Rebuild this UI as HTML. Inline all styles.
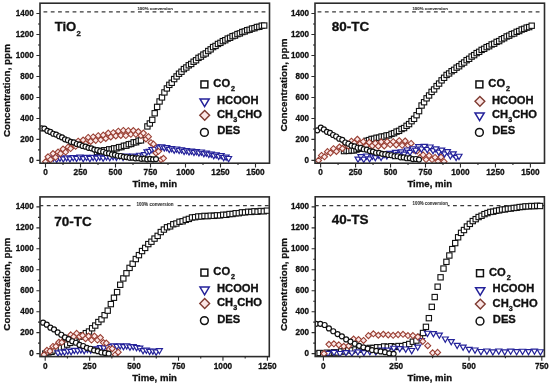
<!DOCTYPE html><html><head><meta charset="utf-8"><style>html,body{margin:0;padding:0;background:#fff;}svg{display:block;filter:blur(0.35px);}text{font-family:"Liberation Sans", sans-serif;font-weight:bold;fill:#111;stroke:#111;stroke-width:0.3px;}</style></head><body>
<svg width="550" height="386" viewBox="0 0 550 386">
<rect width="550" height="386" fill="#fff"/>
<defs>
<clipPath id="cp1"><rect x="40" y="3.2" width="229.5" height="160"/></clipPath>
<clipPath id="cp2"><rect x="315" y="3.2" width="229.5" height="160"/></clipPath>
<clipPath id="cp3"><rect x="40" y="196.9" width="229.3" height="159.7"/></clipPath>
<clipPath id="cp4"><rect x="315.2" y="196.8" width="229.2" height="159.7"/></clipPath>
</defs>
<g id="p1">
<line x1="43.5" y1="11.9" x2="265.4" y2="11.9" stroke="#3a3a3a" stroke-width="1.4" stroke-dasharray="3.8 3.47" clip-path="url(#cp1)"/>
<text x="155.15" y="9.7" font-size="4.4" text-anchor="middle" style="fill:#333;stroke:#333;stroke-width:0.1px" textLength="35.5" lengthAdjust="spacingAndGlyphs">100% conversion</text>
<g clip-path="url(#cp1)">
<rect x="94.35" y="149.32" width="5.3" height="5.3" fill="#fff" stroke="#111" stroke-width="1.1"/>
<rect x="96.79" y="148.22" width="5.3" height="5.3" fill="#fff" stroke="#111" stroke-width="1.1"/>
<rect x="99.24" y="148.41" width="5.3" height="5.3" fill="#fff" stroke="#111" stroke-width="1.1"/>
<rect x="101.68" y="147.59" width="5.3" height="5.3" fill="#fff" stroke="#111" stroke-width="1.1"/>
<rect x="104.13" y="147.55" width="5.3" height="5.3" fill="#fff" stroke="#111" stroke-width="1.1"/>
<rect x="106.57" y="146.66" width="5.3" height="5.3" fill="#fff" stroke="#111" stroke-width="1.1"/>
<rect x="109.02" y="146.75" width="5.3" height="5.3" fill="#fff" stroke="#111" stroke-width="1.1"/>
<rect x="111.46" y="145.7" width="5.3" height="5.3" fill="#fff" stroke="#111" stroke-width="1.1"/>
<rect x="113.91" y="145.62" width="5.3" height="5.3" fill="#fff" stroke="#111" stroke-width="1.1"/>
<rect x="116.35" y="144.5" width="5.3" height="5.3" fill="#fff" stroke="#111" stroke-width="1.1"/>
<rect x="118.79" y="144.42" width="5.3" height="5.3" fill="#fff" stroke="#111" stroke-width="1.1"/>
<rect x="121.24" y="143.15" width="5.3" height="5.3" fill="#fff" stroke="#111" stroke-width="1.1"/>
<rect x="123.68" y="143.01" width="5.3" height="5.3" fill="#fff" stroke="#111" stroke-width="1.1"/>
<rect x="126.13" y="141.6" width="5.3" height="5.3" fill="#fff" stroke="#111" stroke-width="1.1"/>
<rect x="128.57" y="141.31" width="5.3" height="5.3" fill="#fff" stroke="#111" stroke-width="1.1"/>
<rect x="131.02" y="139.71" width="5.3" height="5.3" fill="#fff" stroke="#111" stroke-width="1.1"/>
<rect x="133.46" y="139.56" width="5.3" height="5.3" fill="#fff" stroke="#111" stroke-width="1.1"/>
<rect x="135.91" y="138.04" width="5.3" height="5.3" fill="#fff" stroke="#111" stroke-width="1.1"/>
<rect x="138.35" y="137.72" width="5.3" height="5.3" fill="#fff" stroke="#111" stroke-width="1.1"/>
<rect x="144.75" y="123.77" width="5.3" height="5.3" fill="#fff" stroke="#111" stroke-width="1.1"/>
<rect x="147.18" y="120.82" width="5.3" height="5.3" fill="#fff" stroke="#111" stroke-width="1.1"/>
<rect x="149.62" y="117.2" width="5.3" height="5.3" fill="#fff" stroke="#111" stroke-width="1.1"/>
<rect x="152.05" y="110.61" width="5.3" height="5.3" fill="#fff" stroke="#111" stroke-width="1.1"/>
<rect x="154.48" y="104.25" width="5.3" height="5.3" fill="#fff" stroke="#111" stroke-width="1.1"/>
<rect x="156.92" y="98.82" width="5.3" height="5.3" fill="#fff" stroke="#111" stroke-width="1.1"/>
<rect x="159.35" y="94.78" width="5.3" height="5.3" fill="#fff" stroke="#111" stroke-width="1.1"/>
<rect x="161.78" y="89.75" width="5.3" height="5.3" fill="#fff" stroke="#111" stroke-width="1.1"/>
<rect x="164.22" y="85.78" width="5.3" height="5.3" fill="#fff" stroke="#111" stroke-width="1.1"/>
<rect x="166.65" y="82.21" width="5.3" height="5.3" fill="#fff" stroke="#111" stroke-width="1.1"/>
<rect x="169.08" y="80.13" width="5.3" height="5.3" fill="#fff" stroke="#111" stroke-width="1.1"/>
<rect x="171.52" y="76.43" width="5.3" height="5.3" fill="#fff" stroke="#111" stroke-width="1.1"/>
<rect x="173.95" y="73.78" width="5.3" height="5.3" fill="#fff" stroke="#111" stroke-width="1.1"/>
<rect x="176.38" y="71.07" width="5.3" height="5.3" fill="#fff" stroke="#111" stroke-width="1.1"/>
<rect x="178.82" y="69.09" width="5.3" height="5.3" fill="#fff" stroke="#111" stroke-width="1.1"/>
<rect x="181.25" y="66.43" width="5.3" height="5.3" fill="#fff" stroke="#111" stroke-width="1.1"/>
<rect x="183.68" y="64.83" width="5.3" height="5.3" fill="#fff" stroke="#111" stroke-width="1.1"/>
<rect x="186.12" y="62.65" width="5.3" height="5.3" fill="#fff" stroke="#111" stroke-width="1.1"/>
<rect x="188.55" y="61.31" width="5.3" height="5.3" fill="#fff" stroke="#111" stroke-width="1.1"/>
<rect x="190.98" y="59.11" width="5.3" height="5.3" fill="#fff" stroke="#111" stroke-width="1.1"/>
<rect x="193.42" y="57.6" width="5.3" height="5.3" fill="#fff" stroke="#111" stroke-width="1.1"/>
<rect x="195.85" y="55.22" width="5.3" height="5.3" fill="#fff" stroke="#111" stroke-width="1.1"/>
<rect x="198.28" y="53.94" width="5.3" height="5.3" fill="#fff" stroke="#111" stroke-width="1.1"/>
<rect x="200.72" y="51.98" width="5.3" height="5.3" fill="#fff" stroke="#111" stroke-width="1.1"/>
<rect x="203.15" y="50.76" width="5.3" height="5.3" fill="#fff" stroke="#111" stroke-width="1.1"/>
<rect x="205.58" y="48.38" width="5.3" height="5.3" fill="#fff" stroke="#111" stroke-width="1.1"/>
<rect x="208.02" y="46.7" width="5.3" height="5.3" fill="#fff" stroke="#111" stroke-width="1.1"/>
<rect x="210.45" y="44.42" width="5.3" height="5.3" fill="#fff" stroke="#111" stroke-width="1.1"/>
<rect x="212.88" y="43.28" width="5.3" height="5.3" fill="#fff" stroke="#111" stroke-width="1.1"/>
<rect x="215.32" y="41.31" width="5.3" height="5.3" fill="#fff" stroke="#111" stroke-width="1.1"/>
<rect x="217.75" y="40.21" width="5.3" height="5.3" fill="#fff" stroke="#111" stroke-width="1.1"/>
<rect x="220.18" y="38.49" width="5.3" height="5.3" fill="#fff" stroke="#111" stroke-width="1.1"/>
<rect x="222.62" y="37.56" width="5.3" height="5.3" fill="#fff" stroke="#111" stroke-width="1.1"/>
<rect x="225.05" y="35.94" width="5.3" height="5.3" fill="#fff" stroke="#111" stroke-width="1.1"/>
<rect x="227.48" y="35.12" width="5.3" height="5.3" fill="#fff" stroke="#111" stroke-width="1.1"/>
<rect x="229.92" y="33.53" width="5.3" height="5.3" fill="#fff" stroke="#111" stroke-width="1.1"/>
<rect x="232.35" y="32.93" width="5.3" height="5.3" fill="#fff" stroke="#111" stroke-width="1.1"/>
<rect x="234.78" y="31.42" width="5.3" height="5.3" fill="#fff" stroke="#111" stroke-width="1.1"/>
<rect x="237.22" y="30.75" width="5.3" height="5.3" fill="#fff" stroke="#111" stroke-width="1.1"/>
<rect x="239.65" y="29.38" width="5.3" height="5.3" fill="#fff" stroke="#111" stroke-width="1.1"/>
<rect x="242.08" y="28.8" width="5.3" height="5.3" fill="#fff" stroke="#111" stroke-width="1.1"/>
<rect x="244.52" y="27.54" width="5.3" height="5.3" fill="#fff" stroke="#111" stroke-width="1.1"/>
<rect x="246.95" y="27.1" width="5.3" height="5.3" fill="#fff" stroke="#111" stroke-width="1.1"/>
<rect x="249.38" y="25.9" width="5.3" height="5.3" fill="#fff" stroke="#111" stroke-width="1.1"/>
<rect x="251.82" y="25.52" width="5.3" height="5.3" fill="#fff" stroke="#111" stroke-width="1.1"/>
<rect x="254.25" y="24.38" width="5.3" height="5.3" fill="#fff" stroke="#111" stroke-width="1.1"/>
<rect x="256.68" y="24.14" width="5.3" height="5.3" fill="#fff" stroke="#111" stroke-width="1.1"/>
<rect x="259.12" y="23.05" width="5.3" height="5.3" fill="#fff" stroke="#111" stroke-width="1.1"/>
<rect x="261.55" y="22.89" width="5.3" height="5.3" fill="#fff" stroke="#111" stroke-width="1.1"/>
<path d="M47 157.51H53L50 162.71Z" fill="#fff" stroke="#24229a" stroke-width="1.2" stroke-linejoin="miter"/>
<path d="M50.32 156.2H56.32L53.32 161.4Z" fill="#fff" stroke="#24229a" stroke-width="1.2" stroke-linejoin="miter"/>
<path d="M53.64 157.26H59.64L56.64 162.46Z" fill="#fff" stroke="#24229a" stroke-width="1.2" stroke-linejoin="miter"/>
<path d="M56.96 156.12H62.96L59.96 161.32Z" fill="#fff" stroke="#24229a" stroke-width="1.2" stroke-linejoin="miter"/>
<path d="M60.29 156.87H66.29L63.29 162.07Z" fill="#fff" stroke="#24229a" stroke-width="1.2" stroke-linejoin="miter"/>
<path d="M63.61 155.8H69.61L66.61 161Z" fill="#fff" stroke="#24229a" stroke-width="1.2" stroke-linejoin="miter"/>
<path d="M66.93 156.88H72.93L69.93 162.08Z" fill="#fff" stroke="#24229a" stroke-width="1.2" stroke-linejoin="miter"/>
<path d="M70.25 155.68H76.25L73.25 160.88Z" fill="#fff" stroke="#24229a" stroke-width="1.2" stroke-linejoin="miter"/>
<path d="M73.57 156.38H79.57L76.57 161.58Z" fill="#fff" stroke="#24229a" stroke-width="1.2" stroke-linejoin="miter"/>
<path d="M76.89 155.1H82.89L79.89 160.3Z" fill="#fff" stroke="#24229a" stroke-width="1.2" stroke-linejoin="miter"/>
<path d="M80.21 156.54H86.21L83.21 161.74Z" fill="#fff" stroke="#24229a" stroke-width="1.2" stroke-linejoin="miter"/>
<path d="M83.54 155.47H89.54L86.54 160.67Z" fill="#fff" stroke="#24229a" stroke-width="1.2" stroke-linejoin="miter"/>
<path d="M86.86 156.5H92.86L89.86 161.7Z" fill="#fff" stroke="#24229a" stroke-width="1.2" stroke-linejoin="miter"/>
<path d="M90.18 155.29H96.18L93.18 160.49Z" fill="#fff" stroke="#24229a" stroke-width="1.2" stroke-linejoin="miter"/>
<path d="M93.5 156.1H99.5L96.5 161.3Z" fill="#fff" stroke="#24229a" stroke-width="1.2" stroke-linejoin="miter"/>
<path d="M96.82 155.08H102.82L99.82 160.28Z" fill="#fff" stroke="#24229a" stroke-width="1.2" stroke-linejoin="miter"/>
<path d="M100.14 156.2H106.14L103.14 161.4Z" fill="#fff" stroke="#24229a" stroke-width="1.2" stroke-linejoin="miter"/>
<path d="M103.46 154.79H109.46L106.46 159.99Z" fill="#fff" stroke="#24229a" stroke-width="1.2" stroke-linejoin="miter"/>
<path d="M106.79 155.71H112.79L109.79 160.91Z" fill="#fff" stroke="#24229a" stroke-width="1.2" stroke-linejoin="miter"/>
<path d="M110.11 154.57H116.11L113.11 159.77Z" fill="#fff" stroke="#24229a" stroke-width="1.2" stroke-linejoin="miter"/>
<path d="M113.43 155.39H119.43L116.43 160.59Z" fill="#fff" stroke="#24229a" stroke-width="1.2" stroke-linejoin="miter"/>
<path d="M116.75 154.02H122.75L119.75 159.22Z" fill="#fff" stroke="#24229a" stroke-width="1.2" stroke-linejoin="miter"/>
<path d="M120.07 155.39H126.07L123.07 160.59Z" fill="#fff" stroke="#24229a" stroke-width="1.2" stroke-linejoin="miter"/>
<path d="M123.39 154.02H129.39L126.39 159.22Z" fill="#fff" stroke="#24229a" stroke-width="1.2" stroke-linejoin="miter"/>
<path d="M126.71 154.97H132.71L129.71 160.17Z" fill="#fff" stroke="#24229a" stroke-width="1.2" stroke-linejoin="miter"/>
<path d="M130.04 153.98H136.04L133.04 159.18Z" fill="#fff" stroke="#24229a" stroke-width="1.2" stroke-linejoin="miter"/>
<path d="M133.36 154.91H139.36L136.36 160.11Z" fill="#fff" stroke="#24229a" stroke-width="1.2" stroke-linejoin="miter"/>
<path d="M136.68 153.26H142.68L139.68 158.46Z" fill="#fff" stroke="#24229a" stroke-width="1.2" stroke-linejoin="miter"/>
<path d="M140 154.02H146L143 159.22Z" fill="#fff" stroke="#24229a" stroke-width="1.2" stroke-linejoin="miter"/>
<path d="M141.5 152.69H147.5L144.5 157.89Z" fill="#fff" stroke="#24229a" stroke-width="1.2" stroke-linejoin="miter"/>
<path d="M143.97 149.87H149.97L146.97 155.07Z" fill="#fff" stroke="#24229a" stroke-width="1.2" stroke-linejoin="miter"/>
<path d="M146.45 149.36H152.45L149.45 154.56Z" fill="#fff" stroke="#24229a" stroke-width="1.2" stroke-linejoin="miter"/>
<path d="M148.92 147.49H154.92L151.92 152.69Z" fill="#fff" stroke="#24229a" stroke-width="1.2" stroke-linejoin="miter"/>
<path d="M151.39 147.25H157.39L154.39 152.45Z" fill="#fff" stroke="#24229a" stroke-width="1.2" stroke-linejoin="miter"/>
<path d="M153.87 144.97H159.87L156.87 150.17Z" fill="#fff" stroke="#24229a" stroke-width="1.2" stroke-linejoin="miter"/>
<path d="M156.34 145.91H162.34L159.34 151.11Z" fill="#fff" stroke="#24229a" stroke-width="1.2" stroke-linejoin="miter"/>
<path d="M158.81 144.73H164.81L161.81 149.93Z" fill="#fff" stroke="#24229a" stroke-width="1.2" stroke-linejoin="miter"/>
<path d="M161.29 145.91H167.29L164.29 151.11Z" fill="#fff" stroke="#24229a" stroke-width="1.2" stroke-linejoin="miter"/>
<path d="M163.76 145.6H169.76L166.76 150.8Z" fill="#fff" stroke="#24229a" stroke-width="1.2" stroke-linejoin="miter"/>
<path d="M166.24 147.31H172.24L169.24 152.51Z" fill="#fff" stroke="#24229a" stroke-width="1.2" stroke-linejoin="miter"/>
<path d="M168.71 146.62H174.71L171.71 151.82Z" fill="#fff" stroke="#24229a" stroke-width="1.2" stroke-linejoin="miter"/>
<path d="M171.18 148.07H177.18L174.18 153.27Z" fill="#fff" stroke="#24229a" stroke-width="1.2" stroke-linejoin="miter"/>
<path d="M173.66 147.02H179.66L176.66 152.22Z" fill="#fff" stroke="#24229a" stroke-width="1.2" stroke-linejoin="miter"/>
<path d="M176.13 148.46H182.13L179.13 153.66Z" fill="#fff" stroke="#24229a" stroke-width="1.2" stroke-linejoin="miter"/>
<path d="M178.6 147.9H184.6L181.6 153.1Z" fill="#fff" stroke="#24229a" stroke-width="1.2" stroke-linejoin="miter"/>
<path d="M181.08 149.39H187.08L184.08 154.59Z" fill="#fff" stroke="#24229a" stroke-width="1.2" stroke-linejoin="miter"/>
<path d="M183.55 148.51H189.55L186.55 153.71Z" fill="#fff" stroke="#24229a" stroke-width="1.2" stroke-linejoin="miter"/>
<path d="M186.02 149.88H192.02L189.02 155.08Z" fill="#fff" stroke="#24229a" stroke-width="1.2" stroke-linejoin="miter"/>
<path d="M188.5 149.17H194.5L191.5 154.37Z" fill="#fff" stroke="#24229a" stroke-width="1.2" stroke-linejoin="miter"/>
<path d="M190.97 150.29H196.97L193.97 155.49Z" fill="#fff" stroke="#24229a" stroke-width="1.2" stroke-linejoin="miter"/>
<path d="M193.44 149.56H199.44L196.44 154.76Z" fill="#fff" stroke="#24229a" stroke-width="1.2" stroke-linejoin="miter"/>
<path d="M195.92 150.89H201.92L198.92 156.09Z" fill="#fff" stroke="#24229a" stroke-width="1.2" stroke-linejoin="miter"/>
<path d="M198.39 150.02H204.39L201.39 155.22Z" fill="#fff" stroke="#24229a" stroke-width="1.2" stroke-linejoin="miter"/>
<path d="M200.86 151.54H206.86L203.86 156.74Z" fill="#fff" stroke="#24229a" stroke-width="1.2" stroke-linejoin="miter"/>
<path d="M203.34 151.08H209.34L206.34 156.28Z" fill="#fff" stroke="#24229a" stroke-width="1.2" stroke-linejoin="miter"/>
<path d="M205.81 152.26H211.81L208.81 157.46Z" fill="#fff" stroke="#24229a" stroke-width="1.2" stroke-linejoin="miter"/>
<path d="M208.29 152.09H214.29L211.29 157.29Z" fill="#fff" stroke="#24229a" stroke-width="1.2" stroke-linejoin="miter"/>
<path d="M210.76 153.56H216.76L213.76 158.76Z" fill="#fff" stroke="#24229a" stroke-width="1.2" stroke-linejoin="miter"/>
<path d="M213.23 152.97H219.23L216.23 158.17Z" fill="#fff" stroke="#24229a" stroke-width="1.2" stroke-linejoin="miter"/>
<path d="M215.71 154.29H221.71L218.71 159.49Z" fill="#fff" stroke="#24229a" stroke-width="1.2" stroke-linejoin="miter"/>
<path d="M218.18 153.69H224.18L221.18 158.89Z" fill="#fff" stroke="#24229a" stroke-width="1.2" stroke-linejoin="miter"/>
<path d="M220.65 155.49H226.65L223.65 160.69Z" fill="#fff" stroke="#24229a" stroke-width="1.2" stroke-linejoin="miter"/>
<path d="M223.13 155.11H229.13L226.13 160.31Z" fill="#fff" stroke="#24229a" stroke-width="1.2" stroke-linejoin="miter"/>
<path d="M225.6 156.52H231.6L228.6 161.72Z" fill="#fff" stroke="#24229a" stroke-width="1.2" stroke-linejoin="miter"/>
<path d="M45.5 158.74L48.5 161.74L45.5 164.74L42.5 161.74Z" fill="#fbe8e8" stroke="#9a4034" stroke-width="1.1"/>
<path d="M48.01 153.79L51.01 156.79L48.01 159.79L45.01 156.79Z" fill="#fbe8e8" stroke="#9a4034" stroke-width="1.1"/>
<path d="M50.52 156.7L53.52 159.7L50.52 162.7L47.52 159.7Z" fill="#fbe8e8" stroke="#9a4034" stroke-width="1.1"/>
<path d="M53.03 150.59L56.03 153.59L53.03 156.59L50.03 153.59Z" fill="#fbe8e8" stroke="#9a4034" stroke-width="1.1"/>
<path d="M55.54 154.28L58.54 157.28L55.54 160.28L52.54 157.28Z" fill="#fbe8e8" stroke="#9a4034" stroke-width="1.1"/>
<path d="M58.05 149.08L61.05 152.08L58.05 155.08L55.05 152.08Z" fill="#fbe8e8" stroke="#9a4034" stroke-width="1.1"/>
<path d="M60.56 150.59L63.56 153.59L60.56 156.59L57.56 153.59Z" fill="#fbe8e8" stroke="#9a4034" stroke-width="1.1"/>
<path d="M63.07 146.04L66.07 149.04L63.07 152.04L60.07 149.04Z" fill="#fbe8e8" stroke="#9a4034" stroke-width="1.1"/>
<path d="M65.59 149.04L68.59 152.04L65.59 155.04L62.59 152.04Z" fill="#fbe8e8" stroke="#9a4034" stroke-width="1.1"/>
<path d="M68.1 144.13L71.1 147.13L68.1 150.13L65.1 147.13Z" fill="#fbe8e8" stroke="#9a4034" stroke-width="1.1"/>
<path d="M70.61 145.52L73.61 148.52L70.61 151.52L67.61 148.52Z" fill="#fbe8e8" stroke="#9a4034" stroke-width="1.1"/>
<path d="M73.12 141.04L76.12 144.04L73.12 147.04L70.12 144.04Z" fill="#fbe8e8" stroke="#9a4034" stroke-width="1.1"/>
<path d="M75.63 143.28L78.63 146.28L75.63 149.28L72.63 146.28Z" fill="#fbe8e8" stroke="#9a4034" stroke-width="1.1"/>
<path d="M78.14 138.23L81.14 141.23L78.14 144.23L75.14 141.23Z" fill="#fbe8e8" stroke="#9a4034" stroke-width="1.1"/>
<path d="M80.65 141L83.65 144L80.65 147L77.65 144Z" fill="#fbe8e8" stroke="#9a4034" stroke-width="1.1"/>
<path d="M83.16 137.12L86.16 140.12L83.16 143.12L80.16 140.12Z" fill="#fbe8e8" stroke="#9a4034" stroke-width="1.1"/>
<path d="M85.67 140.57L88.67 143.57L85.67 146.57L82.67 143.57Z" fill="#fbe8e8" stroke="#9a4034" stroke-width="1.1"/>
<path d="M88.18 134.46L91.18 137.46L88.18 140.46L85.18 137.46Z" fill="#fbe8e8" stroke="#9a4034" stroke-width="1.1"/>
<path d="M90.69 138.43L93.69 141.43L90.69 144.43L87.69 141.43Z" fill="#fbe8e8" stroke="#9a4034" stroke-width="1.1"/>
<path d="M93.2 133.92L96.2 136.92L93.2 139.92L90.2 136.92Z" fill="#fbe8e8" stroke="#9a4034" stroke-width="1.1"/>
<path d="M95.71 137.37L98.71 140.37L95.71 143.37L92.71 140.37Z" fill="#fbe8e8" stroke="#9a4034" stroke-width="1.1"/>
<path d="M98.22 132.66L101.22 135.66L98.22 138.66L95.22 135.66Z" fill="#fbe8e8" stroke="#9a4034" stroke-width="1.1"/>
<path d="M100.73 136.81L103.73 139.81L100.73 142.81L97.73 139.81Z" fill="#fbe8e8" stroke="#9a4034" stroke-width="1.1"/>
<path d="M103.24 132.14L106.24 135.14L103.24 138.14L100.24 135.14Z" fill="#fbe8e8" stroke="#9a4034" stroke-width="1.1"/>
<path d="M105.76 135.49L108.76 138.49L105.76 141.49L102.76 138.49Z" fill="#fbe8e8" stroke="#9a4034" stroke-width="1.1"/>
<path d="M108.27 130.03L111.27 133.03L108.27 136.03L105.27 133.03Z" fill="#fbe8e8" stroke="#9a4034" stroke-width="1.1"/>
<path d="M110.78 133.96L113.78 136.96L110.78 139.96L107.78 136.96Z" fill="#fbe8e8" stroke="#9a4034" stroke-width="1.1"/>
<path d="M113.29 129.73L116.29 132.73L113.29 135.73L110.29 132.73Z" fill="#fbe8e8" stroke="#9a4034" stroke-width="1.1"/>
<path d="M115.8 132.94L118.8 135.94L115.8 138.94L112.8 135.94Z" fill="#fbe8e8" stroke="#9a4034" stroke-width="1.1"/>
<path d="M118.31 128.22L121.31 131.22L118.31 134.22L115.31 131.22Z" fill="#fbe8e8" stroke="#9a4034" stroke-width="1.1"/>
<path d="M120.82 132.48L123.82 135.48L120.82 138.48L117.82 135.48Z" fill="#fbe8e8" stroke="#9a4034" stroke-width="1.1"/>
<path d="M123.33 127.46L126.33 130.46L123.33 133.46L120.33 130.46Z" fill="#fbe8e8" stroke="#9a4034" stroke-width="1.1"/>
<path d="M125.84 132.54L128.84 135.54L125.84 138.54L122.84 135.54Z" fill="#fbe8e8" stroke="#9a4034" stroke-width="1.1"/>
<path d="M128.35 127.67L131.35 130.67L128.35 133.67L125.35 130.67Z" fill="#fbe8e8" stroke="#9a4034" stroke-width="1.1"/>
<path d="M130.86 131.32L133.86 134.32L130.86 137.32L127.86 134.32Z" fill="#fbe8e8" stroke="#9a4034" stroke-width="1.1"/>
<path d="M133.37 127.58L136.37 130.58L133.37 133.58L130.37 130.58Z" fill="#fbe8e8" stroke="#9a4034" stroke-width="1.1"/>
<path d="M135.88 131.28L138.88 134.28L135.88 137.28L132.88 134.28Z" fill="#fbe8e8" stroke="#9a4034" stroke-width="1.1"/>
<path d="M138.39 128.61L141.39 131.61L138.39 134.61L135.39 131.61Z" fill="#fbe8e8" stroke="#9a4034" stroke-width="1.1"/>
<path d="M140.9 132.57L143.9 135.57L140.9 138.57L137.9 135.57Z" fill="#fbe8e8" stroke="#9a4034" stroke-width="1.1"/>
<path d="M143.41 130.12L146.41 133.12L143.41 136.12L140.41 133.12Z" fill="#fbe8e8" stroke="#9a4034" stroke-width="1.1"/>
<path d="M145.93 136L148.93 139L145.93 142L142.93 139Z" fill="#fbe8e8" stroke="#9a4034" stroke-width="1.1"/>
<path d="M148.44 133.65L151.44 136.65L148.44 139.65L145.44 136.65Z" fill="#fbe8e8" stroke="#9a4034" stroke-width="1.1"/>
<path d="M150.95 139.69L153.95 142.69L150.95 145.69L147.95 142.69Z" fill="#fbe8e8" stroke="#9a4034" stroke-width="1.1"/>
<path d="M153.46 141.15L156.46 144.15L153.46 147.15L150.46 144.15Z" fill="#fbe8e8" stroke="#9a4034" stroke-width="1.1"/>
<path d="M155.97 149.91L158.97 152.91L155.97 155.91L152.97 152.91Z" fill="#fbe8e8" stroke="#9a4034" stroke-width="1.1"/>
<path d="M158.48 148.27L161.48 151.27L158.48 154.27L155.48 151.27Z" fill="#fbe8e8" stroke="#9a4034" stroke-width="1.1"/>
<path d="M160.99 156.69L163.99 159.69L160.99 162.69L157.99 159.69Z" fill="#fbe8e8" stroke="#9a4034" stroke-width="1.1"/>
<path d="M163.5 155.33L166.5 158.33L163.5 161.33L160.5 158.33Z" fill="#fbe8e8" stroke="#9a4034" stroke-width="1.1"/>
<circle cx="41.5" cy="128.45" r="2.5" fill="#fff" stroke="#111" stroke-width="1.2"/>
<circle cx="44.44" cy="128.59" r="2.5" fill="#fff" stroke="#111" stroke-width="1.2"/>
<circle cx="47.37" cy="130.86" r="2.5" fill="#fff" stroke="#111" stroke-width="1.2"/>
<circle cx="50.31" cy="131.96" r="2.5" fill="#fff" stroke="#111" stroke-width="1.2"/>
<circle cx="53.24" cy="133.74" r="2.5" fill="#fff" stroke="#111" stroke-width="1.2"/>
<circle cx="56.18" cy="134.62" r="2.5" fill="#fff" stroke="#111" stroke-width="1.2"/>
<circle cx="59.12" cy="136.25" r="2.5" fill="#fff" stroke="#111" stroke-width="1.2"/>
<circle cx="62.05" cy="137.42" r="2.5" fill="#fff" stroke="#111" stroke-width="1.2"/>
<circle cx="64.99" cy="139.28" r="2.5" fill="#fff" stroke="#111" stroke-width="1.2"/>
<circle cx="67.92" cy="140.25" r="2.5" fill="#fff" stroke="#111" stroke-width="1.2"/>
<circle cx="70.86" cy="141.87" r="2.5" fill="#fff" stroke="#111" stroke-width="1.2"/>
<circle cx="73.79" cy="142.45" r="2.5" fill="#fff" stroke="#111" stroke-width="1.2"/>
<circle cx="76.73" cy="144.02" r="2.5" fill="#fff" stroke="#111" stroke-width="1.2"/>
<circle cx="79.67" cy="144.7" r="2.5" fill="#fff" stroke="#111" stroke-width="1.2"/>
<circle cx="82.6" cy="145.98" r="2.5" fill="#fff" stroke="#111" stroke-width="1.2"/>
<circle cx="85.54" cy="146.66" r="2.5" fill="#fff" stroke="#111" stroke-width="1.2"/>
<circle cx="88.47" cy="147.82" r="2.5" fill="#fff" stroke="#111" stroke-width="1.2"/>
<circle cx="91.41" cy="148.36" r="2.5" fill="#fff" stroke="#111" stroke-width="1.2"/>
<circle cx="94.35" cy="149.58" r="2.5" fill="#fff" stroke="#111" stroke-width="1.2"/>
<circle cx="97.28" cy="150.08" r="2.5" fill="#fff" stroke="#111" stroke-width="1.2"/>
<circle cx="100.22" cy="151.26" r="2.5" fill="#fff" stroke="#111" stroke-width="1.2"/>
<circle cx="103.15" cy="151.76" r="2.5" fill="#fff" stroke="#111" stroke-width="1.2"/>
<circle cx="106.09" cy="152.99" r="2.5" fill="#fff" stroke="#111" stroke-width="1.2"/>
<circle cx="109.03" cy="153.36" r="2.5" fill="#fff" stroke="#111" stroke-width="1.2"/>
<circle cx="111.96" cy="154.5" r="2.5" fill="#fff" stroke="#111" stroke-width="1.2"/>
<circle cx="114.9" cy="154.78" r="2.5" fill="#fff" stroke="#111" stroke-width="1.2"/>
<circle cx="117.83" cy="155.73" r="2.5" fill="#fff" stroke="#111" stroke-width="1.2"/>
<circle cx="120.77" cy="155.99" r="2.5" fill="#fff" stroke="#111" stroke-width="1.2"/>
<circle cx="123.71" cy="156.8" r="2.5" fill="#fff" stroke="#111" stroke-width="1.2"/>
<circle cx="126.64" cy="157.03" r="2.5" fill="#fff" stroke="#111" stroke-width="1.2"/>
<circle cx="129.58" cy="157.77" r="2.5" fill="#fff" stroke="#111" stroke-width="1.2"/>
<circle cx="132.51" cy="157.69" r="2.5" fill="#fff" stroke="#111" stroke-width="1.2"/>
<circle cx="135.45" cy="158.37" r="2.5" fill="#fff" stroke="#111" stroke-width="1.2"/>
<circle cx="138.38" cy="158.27" r="2.5" fill="#fff" stroke="#111" stroke-width="1.2"/>
<circle cx="141.32" cy="158.83" r="2.5" fill="#fff" stroke="#111" stroke-width="1.2"/>
<circle cx="144.26" cy="158.69" r="2.5" fill="#fff" stroke="#111" stroke-width="1.2"/>
<circle cx="147.19" cy="159.31" r="2.5" fill="#fff" stroke="#111" stroke-width="1.2"/>
<circle cx="150.13" cy="158.95" r="2.5" fill="#fff" stroke="#111" stroke-width="1.2"/>
<circle cx="153.06" cy="159.28" r="2.5" fill="#fff" stroke="#111" stroke-width="1.2"/>
<circle cx="156" cy="159.07" r="2.5" fill="#fff" stroke="#111" stroke-width="1.2"/>
</g>
<rect x="40" y="3.2" width="229.5" height="160" fill="none" stroke="#2b2b2b" stroke-width="1.6"/>
<text x="33.8" y="162.7" font-size="8.8" text-anchor="end" textLength="4.5" lengthAdjust="spacingAndGlyphs">0</text>
<text x="33.8" y="141.72" font-size="8.8" text-anchor="end" textLength="13.51" lengthAdjust="spacingAndGlyphs">200</text>
<text x="33.8" y="120.74" font-size="8.8" text-anchor="end" textLength="13.51" lengthAdjust="spacingAndGlyphs">400</text>
<text x="33.8" y="99.76" font-size="8.8" text-anchor="end" textLength="13.51" lengthAdjust="spacingAndGlyphs">600</text>
<text x="33.8" y="78.78" font-size="8.8" text-anchor="end" textLength="13.51" lengthAdjust="spacingAndGlyphs">800</text>
<text x="33.8" y="57.8" font-size="8.8" text-anchor="end" textLength="18.02" lengthAdjust="spacingAndGlyphs">1000</text>
<text x="33.8" y="36.82" font-size="8.8" text-anchor="end" textLength="18.02" lengthAdjust="spacingAndGlyphs">1200</text>
<text x="33.8" y="15.84" font-size="8.8" text-anchor="end" textLength="18.02" lengthAdjust="spacingAndGlyphs">1400</text>
<text x="45.5" y="175.4" font-size="8.8" text-anchor="middle" textLength="4.59" lengthAdjust="spacingAndGlyphs">0</text>
<text x="80.5" y="175.4" font-size="8.8" text-anchor="middle" textLength="13.76" lengthAdjust="spacingAndGlyphs">250</text>
<text x="115.5" y="175.4" font-size="8.8" text-anchor="middle" textLength="13.76" lengthAdjust="spacingAndGlyphs">500</text>
<text x="150.5" y="175.4" font-size="8.8" text-anchor="middle" textLength="13.76" lengthAdjust="spacingAndGlyphs">750</text>
<text x="185.5" y="175.4" font-size="8.8" text-anchor="middle" textLength="18.35" lengthAdjust="spacingAndGlyphs">1000</text>
<text x="220.5" y="175.4" font-size="8.8" text-anchor="middle" textLength="18.35" lengthAdjust="spacingAndGlyphs">1250</text>
<text x="255.5" y="175.4" font-size="8.8" text-anchor="middle" textLength="18.35" lengthAdjust="spacingAndGlyphs">1500</text>
<path d="M36.4 160.4H40M36.4 139.42H40M36.4 118.44H40M36.4 97.46H40M36.4 76.48H40M36.4 55.5H40M36.4 34.52H40M36.4 13.54H40M38 149.91H40M38 128.93H40M38 107.95H40M38 86.97H40M38 65.99H40M38 45.01H40M38 24.03H40M45.5 163.2V167.4M80.5 163.2V167.4M115.5 163.2V167.4M150.5 163.2V167.4M185.5 163.2V167.4M220.5 163.2V167.4M255.5 163.2V167.4M63 163.2V165M98 163.2V165M133 163.2V165M168 163.2V165M203 163.2V165M238 163.2V165" stroke="#2b2b2b" stroke-width="1.1" fill="none"/>
<text x="154.75" y="186.8" font-size="9.6" text-anchor="middle">Time, min</text>
<text transform="translate(9.6 90.6) rotate(-90)" x="0" y="0" font-size="9.85" text-anchor="middle">Concentration, ppm</text>
<text x="54.7" y="30.6" font-size="13.1">TiO<tspan font-size="7.8" dx="0.1" dy="4.9">2</tspan></text>
<rect x="200.95" y="80.95" width="6.9" height="6.9" fill="#fff" stroke="#111" stroke-width="1.5"/>
<text transform="translate(213.3 87.2) scale(1.12 1)" x="0" y="0" font-size="10">CO<tspan font-size="6.4" dx="0.9" dy="3.6">2</tspan></text>
<path d="M200 98.9H209.2L204.6 106.6Z" fill="#fff" stroke="#24229a" stroke-width="1.5"/>
<path d="M204.7 110.4L209.6 115.3L204.7 120.2L199.8 115.3Z" fill="#fbe6e6" stroke="#7e3a30" stroke-width="1.4"/>
<text transform="translate(217 103.6) scale(1.12 1)" x="0" y="0" font-size="10">HCOOH</text>
<text transform="translate(217 117.8) scale(1.12 1)" x="0" y="0" font-size="10">CH<tspan font-size="6.4" dy="3.9">3</tspan><tspan dy="-3.9">CHO</tspan></text>
<circle cx="204.4" cy="132.4" r="3.9" fill="#fff" stroke="#111" stroke-width="1.5"/>
<text transform="translate(217.2 134.3) scale(1.12 1)" x="0" y="0" font-size="10">DES</text>
</g>
<g id="p2">
<line x1="317.6" y1="11.9" x2="539.5" y2="11.9" stroke="#3a3a3a" stroke-width="1.4" stroke-dasharray="3.8 3.47" clip-path="url(#cp2)"/>
<text x="430.15" y="9.7" font-size="4.4" text-anchor="middle" style="fill:#333;stroke:#333;stroke-width:0.1px" textLength="35.5" lengthAdjust="spacingAndGlyphs">100% conversion</text>
<g clip-path="url(#cp2)">
<rect x="341.35" y="148.43" width="5.3" height="5.3" fill="#fff" stroke="#111" stroke-width="1.1"/>
<rect x="343.85" y="147.93" width="5.3" height="5.3" fill="#fff" stroke="#111" stroke-width="1.1"/>
<rect x="346.36" y="148.26" width="5.3" height="5.3" fill="#fff" stroke="#111" stroke-width="1.1"/>
<rect x="348.86" y="147.76" width="5.3" height="5.3" fill="#fff" stroke="#111" stroke-width="1.1"/>
<rect x="351.36" y="147.8" width="5.3" height="5.3" fill="#fff" stroke="#111" stroke-width="1.1"/>
<rect x="353.86" y="146.95" width="5.3" height="5.3" fill="#fff" stroke="#111" stroke-width="1.1"/>
<rect x="356.37" y="146.15" width="5.3" height="5.3" fill="#fff" stroke="#111" stroke-width="1.1"/>
<rect x="358.87" y="143.11" width="5.3" height="5.3" fill="#fff" stroke="#111" stroke-width="1.1"/>
<rect x="361.37" y="140.66" width="5.3" height="5.3" fill="#fff" stroke="#111" stroke-width="1.1"/>
<rect x="363.87" y="138.15" width="5.3" height="5.3" fill="#fff" stroke="#111" stroke-width="1.1"/>
<rect x="366.38" y="137.47" width="5.3" height="5.3" fill="#fff" stroke="#111" stroke-width="1.1"/>
<rect x="368.88" y="136.32" width="5.3" height="5.3" fill="#fff" stroke="#111" stroke-width="1.1"/>
<rect x="371.38" y="136.15" width="5.3" height="5.3" fill="#fff" stroke="#111" stroke-width="1.1"/>
<rect x="373.88" y="135.13" width="5.3" height="5.3" fill="#fff" stroke="#111" stroke-width="1.1"/>
<rect x="376.39" y="135.02" width="5.3" height="5.3" fill="#fff" stroke="#111" stroke-width="1.1"/>
<rect x="378.89" y="133.9" width="5.3" height="5.3" fill="#fff" stroke="#111" stroke-width="1.1"/>
<rect x="381.39" y="133.87" width="5.3" height="5.3" fill="#fff" stroke="#111" stroke-width="1.1"/>
<rect x="383.9" y="132.8" width="5.3" height="5.3" fill="#fff" stroke="#111" stroke-width="1.1"/>
<rect x="386.4" y="132.58" width="5.3" height="5.3" fill="#fff" stroke="#111" stroke-width="1.1"/>
<rect x="388.9" y="131.23" width="5.3" height="5.3" fill="#fff" stroke="#111" stroke-width="1.1"/>
<rect x="391.4" y="130.52" width="5.3" height="5.3" fill="#fff" stroke="#111" stroke-width="1.1"/>
<rect x="393.91" y="128.96" width="5.3" height="5.3" fill="#fff" stroke="#111" stroke-width="1.1"/>
<rect x="396.41" y="128.22" width="5.3" height="5.3" fill="#fff" stroke="#111" stroke-width="1.1"/>
<rect x="398.91" y="126.37" width="5.3" height="5.3" fill="#fff" stroke="#111" stroke-width="1.1"/>
<rect x="401.41" y="125.4" width="5.3" height="5.3" fill="#fff" stroke="#111" stroke-width="1.1"/>
<rect x="403.92" y="123.21" width="5.3" height="5.3" fill="#fff" stroke="#111" stroke-width="1.1"/>
<rect x="406.42" y="121.46" width="5.3" height="5.3" fill="#fff" stroke="#111" stroke-width="1.1"/>
<rect x="408.92" y="118.53" width="5.3" height="5.3" fill="#fff" stroke="#111" stroke-width="1.1"/>
<rect x="411.42" y="116.19" width="5.3" height="5.3" fill="#fff" stroke="#111" stroke-width="1.1"/>
<rect x="413.93" y="112.55" width="5.3" height="5.3" fill="#fff" stroke="#111" stroke-width="1.1"/>
<rect x="416.43" y="108.48" width="5.3" height="5.3" fill="#fff" stroke="#111" stroke-width="1.1"/>
<rect x="418.93" y="102.87" width="5.3" height="5.3" fill="#fff" stroke="#111" stroke-width="1.1"/>
<rect x="421.44" y="99.55" width="5.3" height="5.3" fill="#fff" stroke="#111" stroke-width="1.1"/>
<rect x="423.94" y="95.68" width="5.3" height="5.3" fill="#fff" stroke="#111" stroke-width="1.1"/>
<rect x="426.44" y="92.83" width="5.3" height="5.3" fill="#fff" stroke="#111" stroke-width="1.1"/>
<rect x="428.94" y="89.24" width="5.3" height="5.3" fill="#fff" stroke="#111" stroke-width="1.1"/>
<rect x="431.45" y="86.82" width="5.3" height="5.3" fill="#fff" stroke="#111" stroke-width="1.1"/>
<rect x="433.95" y="83.45" width="5.3" height="5.3" fill="#fff" stroke="#111" stroke-width="1.1"/>
<rect x="436.45" y="80.92" width="5.3" height="5.3" fill="#fff" stroke="#111" stroke-width="1.1"/>
<rect x="438.95" y="77.71" width="5.3" height="5.3" fill="#fff" stroke="#111" stroke-width="1.1"/>
<rect x="441.46" y="75.13" width="5.3" height="5.3" fill="#fff" stroke="#111" stroke-width="1.1"/>
<rect x="443.96" y="72.29" width="5.3" height="5.3" fill="#fff" stroke="#111" stroke-width="1.1"/>
<rect x="446.46" y="70.81" width="5.3" height="5.3" fill="#fff" stroke="#111" stroke-width="1.1"/>
<rect x="448.96" y="68.56" width="5.3" height="5.3" fill="#fff" stroke="#111" stroke-width="1.1"/>
<rect x="451.47" y="67.21" width="5.3" height="5.3" fill="#fff" stroke="#111" stroke-width="1.1"/>
<rect x="453.97" y="65" width="5.3" height="5.3" fill="#fff" stroke="#111" stroke-width="1.1"/>
<rect x="456.47" y="63.6" width="5.3" height="5.3" fill="#fff" stroke="#111" stroke-width="1.1"/>
<rect x="458.98" y="61.4" width="5.3" height="5.3" fill="#fff" stroke="#111" stroke-width="1.1"/>
<rect x="461.48" y="59.84" width="5.3" height="5.3" fill="#fff" stroke="#111" stroke-width="1.1"/>
<rect x="463.98" y="57.51" width="5.3" height="5.3" fill="#fff" stroke="#111" stroke-width="1.1"/>
<rect x="466.48" y="56.15" width="5.3" height="5.3" fill="#fff" stroke="#111" stroke-width="1.1"/>
<rect x="468.99" y="53.94" width="5.3" height="5.3" fill="#fff" stroke="#111" stroke-width="1.1"/>
<rect x="471.49" y="52.49" width="5.3" height="5.3" fill="#fff" stroke="#111" stroke-width="1.1"/>
<rect x="473.99" y="50.45" width="5.3" height="5.3" fill="#fff" stroke="#111" stroke-width="1.1"/>
<rect x="476.49" y="49.19" width="5.3" height="5.3" fill="#fff" stroke="#111" stroke-width="1.1"/>
<rect x="479" y="47.24" width="5.3" height="5.3" fill="#fff" stroke="#111" stroke-width="1.1"/>
<rect x="481.5" y="46.18" width="5.3" height="5.3" fill="#fff" stroke="#111" stroke-width="1.1"/>
<rect x="484" y="44.48" width="5.3" height="5.3" fill="#fff" stroke="#111" stroke-width="1.1"/>
<rect x="486.5" y="43.57" width="5.3" height="5.3" fill="#fff" stroke="#111" stroke-width="1.1"/>
<rect x="489.01" y="41.81" width="5.3" height="5.3" fill="#fff" stroke="#111" stroke-width="1.1"/>
<rect x="491.51" y="41.08" width="5.3" height="5.3" fill="#fff" stroke="#111" stroke-width="1.1"/>
<rect x="494.01" y="39.24" width="5.3" height="5.3" fill="#fff" stroke="#111" stroke-width="1.1"/>
<rect x="496.52" y="38.45" width="5.3" height="5.3" fill="#fff" stroke="#111" stroke-width="1.1"/>
<rect x="499.02" y="36.6" width="5.3" height="5.3" fill="#fff" stroke="#111" stroke-width="1.1"/>
<rect x="501.52" y="35.54" width="5.3" height="5.3" fill="#fff" stroke="#111" stroke-width="1.1"/>
<rect x="504.02" y="33.82" width="5.3" height="5.3" fill="#fff" stroke="#111" stroke-width="1.1"/>
<rect x="506.53" y="33.01" width="5.3" height="5.3" fill="#fff" stroke="#111" stroke-width="1.1"/>
<rect x="509.03" y="31.45" width="5.3" height="5.3" fill="#fff" stroke="#111" stroke-width="1.1"/>
<rect x="511.53" y="30.84" width="5.3" height="5.3" fill="#fff" stroke="#111" stroke-width="1.1"/>
<rect x="514.03" y="29.18" width="5.3" height="5.3" fill="#fff" stroke="#111" stroke-width="1.1"/>
<rect x="516.54" y="28.38" width="5.3" height="5.3" fill="#fff" stroke="#111" stroke-width="1.1"/>
<rect x="519.04" y="26.87" width="5.3" height="5.3" fill="#fff" stroke="#111" stroke-width="1.1"/>
<rect x="521.54" y="26.18" width="5.3" height="5.3" fill="#fff" stroke="#111" stroke-width="1.1"/>
<rect x="524.04" y="24.93" width="5.3" height="5.3" fill="#fff" stroke="#111" stroke-width="1.1"/>
<rect x="526.55" y="24.42" width="5.3" height="5.3" fill="#fff" stroke="#111" stroke-width="1.1"/>
<rect x="529.05" y="23.07" width="5.3" height="5.3" fill="#fff" stroke="#111" stroke-width="1.1"/>
<path d="M318.5 157.39L321.5 160.39L318.5 163.39L315.5 160.39Z" fill="#fbe8e8" stroke="#9a4034" stroke-width="1.1"/>
<path d="M321.49 152.41L324.49 155.41L321.49 158.41L318.49 155.41Z" fill="#fbe8e8" stroke="#9a4034" stroke-width="1.1"/>
<path d="M324.48 153.82L327.48 156.82L324.48 159.82L321.48 156.82Z" fill="#fbe8e8" stroke="#9a4034" stroke-width="1.1"/>
<path d="M327.46 148.65L330.46 151.65L327.46 154.65L324.46 151.65Z" fill="#fbe8e8" stroke="#9a4034" stroke-width="1.1"/>
<path d="M330.45 149.87L333.45 152.87L330.45 155.87L327.45 152.87Z" fill="#fbe8e8" stroke="#9a4034" stroke-width="1.1"/>
<path d="M333.44 145.73L336.44 148.73L333.44 151.73L330.44 148.73Z" fill="#fbe8e8" stroke="#9a4034" stroke-width="1.1"/>
<path d="M336.43 148.42L339.43 151.42L336.43 154.42L333.43 151.42Z" fill="#fbe8e8" stroke="#9a4034" stroke-width="1.1"/>
<path d="M339.42 144.01L342.42 147.01L339.42 150.01L336.42 147.01Z" fill="#fbe8e8" stroke="#9a4034" stroke-width="1.1"/>
<path d="M342.4 145.5L345.4 148.5L342.4 151.5L339.4 148.5Z" fill="#fbe8e8" stroke="#9a4034" stroke-width="1.1"/>
<path d="M345.39 140.41L348.39 143.41L345.39 146.41L342.39 143.41Z" fill="#fbe8e8" stroke="#9a4034" stroke-width="1.1"/>
<path d="M348.38 143.2L351.38 146.2L348.38 149.2L345.38 146.2Z" fill="#fbe8e8" stroke="#9a4034" stroke-width="1.1"/>
<path d="M351.37 138.21L354.37 141.21L351.37 144.21L348.37 141.21Z" fill="#fbe8e8" stroke="#9a4034" stroke-width="1.1"/>
<path d="M354.36 139.81L357.36 142.81L354.36 145.81L351.36 142.81Z" fill="#fbe8e8" stroke="#9a4034" stroke-width="1.1"/>
<path d="M357.35 136.26L360.35 139.26L357.35 142.26L354.35 139.26Z" fill="#fbe8e8" stroke="#9a4034" stroke-width="1.1"/>
<path d="M360.33 140.56L363.33 143.56L360.33 146.56L357.33 143.56Z" fill="#fbe8e8" stroke="#9a4034" stroke-width="1.1"/>
<path d="M363.32 138.69L366.32 141.69L363.32 144.69L360.32 141.69Z" fill="#fbe8e8" stroke="#9a4034" stroke-width="1.1"/>
<path d="M366.31 142.96L369.31 145.96L366.31 148.96L363.31 145.96Z" fill="#fbe8e8" stroke="#9a4034" stroke-width="1.1"/>
<path d="M369.3 139.28L372.3 142.28L369.3 145.28L366.3 142.28Z" fill="#fbe8e8" stroke="#9a4034" stroke-width="1.1"/>
<path d="M372.29 142.91L375.29 145.91L372.29 148.91L369.29 145.91Z" fill="#fbe8e8" stroke="#9a4034" stroke-width="1.1"/>
<path d="M375.27 140.13L378.27 143.13L375.27 146.13L372.27 143.13Z" fill="#fbe8e8" stroke="#9a4034" stroke-width="1.1"/>
<path d="M378.26 143.14L381.26 146.14L378.26 149.14L375.26 146.14Z" fill="#fbe8e8" stroke="#9a4034" stroke-width="1.1"/>
<path d="M381.25 138.85L384.25 141.85L381.25 144.85L378.25 141.85Z" fill="#fbe8e8" stroke="#9a4034" stroke-width="1.1"/>
<path d="M384.24 142.97L387.24 145.97L384.24 148.97L381.24 145.97Z" fill="#fbe8e8" stroke="#9a4034" stroke-width="1.1"/>
<path d="M387.23 138.57L390.23 141.57L387.23 144.57L384.23 141.57Z" fill="#fbe8e8" stroke="#9a4034" stroke-width="1.1"/>
<path d="M390.21 141.53L393.21 144.53L390.21 147.53L387.21 144.53Z" fill="#fbe8e8" stroke="#9a4034" stroke-width="1.1"/>
<path d="M393.2 138.69L396.2 141.69L393.2 144.69L390.2 141.69Z" fill="#fbe8e8" stroke="#9a4034" stroke-width="1.1"/>
<path d="M396.19 141.96L399.19 144.96L396.19 147.96L393.19 144.96Z" fill="#fbe8e8" stroke="#9a4034" stroke-width="1.1"/>
<path d="M399.18 137.69L402.18 140.69L399.18 143.69L396.18 140.69Z" fill="#fbe8e8" stroke="#9a4034" stroke-width="1.1"/>
<path d="M402.17 142.34L405.17 145.34L402.17 148.34L399.17 145.34Z" fill="#fbe8e8" stroke="#9a4034" stroke-width="1.1"/>
<path d="M405.15 138.01L408.15 141.01L405.15 144.01L402.15 141.01Z" fill="#fbe8e8" stroke="#9a4034" stroke-width="1.1"/>
<path d="M408.14 142.31L411.14 145.31L408.14 148.31L405.14 145.31Z" fill="#fbe8e8" stroke="#9a4034" stroke-width="1.1"/>
<path d="M411.13 140.41L414.13 143.41L411.13 146.41L408.13 143.41Z" fill="#fbe8e8" stroke="#9a4034" stroke-width="1.1"/>
<path d="M414.12 147.27L417.12 150.27L414.12 153.27L411.12 150.27Z" fill="#fbe8e8" stroke="#9a4034" stroke-width="1.1"/>
<path d="M417.11 148L420.11 151L417.11 154L414.11 151Z" fill="#fbe8e8" stroke="#9a4034" stroke-width="1.1"/>
<path d="M420.1 154.37L423.1 157.37L420.1 160.37L417.1 157.37Z" fill="#fbe8e8" stroke="#9a4034" stroke-width="1.1"/>
<path d="M423.08 151.9L426.08 154.9L423.08 157.9L420.08 154.9Z" fill="#fbe8e8" stroke="#9a4034" stroke-width="1.1"/>
<path d="M426.07 156.57L429.07 159.57L426.07 162.57L423.07 159.57Z" fill="#fbe8e8" stroke="#9a4034" stroke-width="1.1"/>
<path d="M429.06 152.53L432.06 155.53L429.06 158.53L426.06 155.53Z" fill="#fbe8e8" stroke="#9a4034" stroke-width="1.1"/>
<path d="M432.05 156.59L435.05 159.59L432.05 162.59L429.05 159.59Z" fill="#fbe8e8" stroke="#9a4034" stroke-width="1.1"/>
<path d="M435.04 154.48L438.04 157.48L435.04 160.48L432.04 157.48Z" fill="#fbe8e8" stroke="#9a4034" stroke-width="1.1"/>
<path d="M438.02 158.31L441.02 161.31L438.02 164.31L435.02 161.31Z" fill="#fbe8e8" stroke="#9a4034" stroke-width="1.1"/>
<path d="M441.01 154.11L444.01 157.11L441.01 160.11L438.01 157.11Z" fill="#fbe8e8" stroke="#9a4034" stroke-width="1.1"/>
<path d="M444 158.63L447 161.63L444 164.63L441 161.63Z" fill="#fbe8e8" stroke="#9a4034" stroke-width="1.1"/>
<path d="M355 157.05H361L358 162.25Z" fill="#fff" stroke="#24229a" stroke-width="1.2" stroke-linejoin="miter"/>
<path d="M357.89 154.69H363.89L360.89 159.89Z" fill="#fff" stroke="#24229a" stroke-width="1.2" stroke-linejoin="miter"/>
<path d="M360.77 157.27H366.77L363.77 162.47Z" fill="#fff" stroke="#24229a" stroke-width="1.2" stroke-linejoin="miter"/>
<path d="M363.66 153.98H369.66L366.66 159.18Z" fill="#fff" stroke="#24229a" stroke-width="1.2" stroke-linejoin="miter"/>
<path d="M366.54 156.91H372.54L369.54 162.11Z" fill="#fff" stroke="#24229a" stroke-width="1.2" stroke-linejoin="miter"/>
<path d="M369.43 154.1H375.43L372.43 159.3Z" fill="#fff" stroke="#24229a" stroke-width="1.2" stroke-linejoin="miter"/>
<path d="M372.31 155.57H378.31L375.31 160.77Z" fill="#fff" stroke="#24229a" stroke-width="1.2" stroke-linejoin="miter"/>
<path d="M375.2 153.03H381.2L378.2 158.23Z" fill="#fff" stroke="#24229a" stroke-width="1.2" stroke-linejoin="miter"/>
<path d="M378.09 155.32H384.09L381.09 160.52Z" fill="#fff" stroke="#24229a" stroke-width="1.2" stroke-linejoin="miter"/>
<path d="M380.97 152.54H386.97L383.97 157.74Z" fill="#fff" stroke="#24229a" stroke-width="1.2" stroke-linejoin="miter"/>
<path d="M383.86 153.86H389.86L386.86 159.06Z" fill="#fff" stroke="#24229a" stroke-width="1.2" stroke-linejoin="miter"/>
<path d="M386.74 151.4H392.74L389.74 156.6Z" fill="#fff" stroke="#24229a" stroke-width="1.2" stroke-linejoin="miter"/>
<path d="M389.63 153.23H395.63L392.63 158.43Z" fill="#fff" stroke="#24229a" stroke-width="1.2" stroke-linejoin="miter"/>
<path d="M392.51 150.31H398.51L395.51 155.51Z" fill="#fff" stroke="#24229a" stroke-width="1.2" stroke-linejoin="miter"/>
<path d="M395.4 152.29H401.4L398.4 157.49Z" fill="#fff" stroke="#24229a" stroke-width="1.2" stroke-linejoin="miter"/>
<path d="M398.29 149.86H404.29L401.29 155.06Z" fill="#fff" stroke="#24229a" stroke-width="1.2" stroke-linejoin="miter"/>
<path d="M401.17 152.06H407.17L404.17 157.26Z" fill="#fff" stroke="#24229a" stroke-width="1.2" stroke-linejoin="miter"/>
<path d="M404.06 148.02H410.06L407.06 153.22Z" fill="#fff" stroke="#24229a" stroke-width="1.2" stroke-linejoin="miter"/>
<path d="M406.94 150.29H412.94L409.94 155.49Z" fill="#fff" stroke="#24229a" stroke-width="1.2" stroke-linejoin="miter"/>
<path d="M409.83 146.75H415.83L412.83 151.95Z" fill="#fff" stroke="#24229a" stroke-width="1.2" stroke-linejoin="miter"/>
<path d="M412.71 148.26H418.71L415.71 153.46Z" fill="#fff" stroke="#24229a" stroke-width="1.2" stroke-linejoin="miter"/>
<path d="M415.6 144.72H421.6L418.6 149.92Z" fill="#fff" stroke="#24229a" stroke-width="1.2" stroke-linejoin="miter"/>
<path d="M418.49 147H424.49L421.49 152.2Z" fill="#fff" stroke="#24229a" stroke-width="1.2" stroke-linejoin="miter"/>
<path d="M421.37 144.36H427.37L424.37 149.56Z" fill="#fff" stroke="#24229a" stroke-width="1.2" stroke-linejoin="miter"/>
<path d="M424.26 147.48H430.26L427.26 152.68Z" fill="#fff" stroke="#24229a" stroke-width="1.2" stroke-linejoin="miter"/>
<path d="M427.14 144.99H433.14L430.14 150.19Z" fill="#fff" stroke="#24229a" stroke-width="1.2" stroke-linejoin="miter"/>
<path d="M430.03 148.59H436.03L433.03 153.79Z" fill="#fff" stroke="#24229a" stroke-width="1.2" stroke-linejoin="miter"/>
<path d="M432.91 146.93H438.91L435.91 152.13Z" fill="#fff" stroke="#24229a" stroke-width="1.2" stroke-linejoin="miter"/>
<path d="M435.8 150.05H441.8L438.8 155.25Z" fill="#fff" stroke="#24229a" stroke-width="1.2" stroke-linejoin="miter"/>
<path d="M438.69 148.05H444.69L441.69 153.25Z" fill="#fff" stroke="#24229a" stroke-width="1.2" stroke-linejoin="miter"/>
<path d="M441.57 151.79H447.57L444.57 156.99Z" fill="#fff" stroke="#24229a" stroke-width="1.2" stroke-linejoin="miter"/>
<path d="M444.46 149.54H450.46L447.46 154.74Z" fill="#fff" stroke="#24229a" stroke-width="1.2" stroke-linejoin="miter"/>
<path d="M447.34 153.83H453.34L450.34 159.03Z" fill="#fff" stroke="#24229a" stroke-width="1.2" stroke-linejoin="miter"/>
<path d="M450.23 151.8H456.23L453.23 157Z" fill="#fff" stroke="#24229a" stroke-width="1.2" stroke-linejoin="miter"/>
<path d="M453.11 155.34H459.11L456.11 160.54Z" fill="#fff" stroke="#24229a" stroke-width="1.2" stroke-linejoin="miter"/>
<path d="M456 154.23H462L459 159.43Z" fill="#fff" stroke="#24229a" stroke-width="1.2" stroke-linejoin="miter"/>
<circle cx="317.3" cy="130.3" r="2.5" fill="#fff" stroke="#111" stroke-width="1.2"/>
<circle cx="320.8" cy="127.69" r="2.5" fill="#fff" stroke="#111" stroke-width="1.2"/>
<circle cx="323.87" cy="129.38" r="2.5" fill="#fff" stroke="#111" stroke-width="1.2"/>
<circle cx="326.94" cy="131.84" r="2.5" fill="#fff" stroke="#111" stroke-width="1.2"/>
<circle cx="330.01" cy="132.93" r="2.5" fill="#fff" stroke="#111" stroke-width="1.2"/>
<circle cx="333.07" cy="135.02" r="2.5" fill="#fff" stroke="#111" stroke-width="1.2"/>
<circle cx="336.14" cy="136.48" r="2.5" fill="#fff" stroke="#111" stroke-width="1.2"/>
<circle cx="339.21" cy="138.73" r="2.5" fill="#fff" stroke="#111" stroke-width="1.2"/>
<circle cx="342.28" cy="139.84" r="2.5" fill="#fff" stroke="#111" stroke-width="1.2"/>
<circle cx="345.35" cy="142.48" r="2.5" fill="#fff" stroke="#111" stroke-width="1.2"/>
<circle cx="348.42" cy="143.77" r="2.5" fill="#fff" stroke="#111" stroke-width="1.2"/>
<circle cx="351.49" cy="145.65" r="2.5" fill="#fff" stroke="#111" stroke-width="1.2"/>
<circle cx="354.56" cy="146.32" r="2.5" fill="#fff" stroke="#111" stroke-width="1.2"/>
<circle cx="357.62" cy="147.75" r="2.5" fill="#fff" stroke="#111" stroke-width="1.2"/>
<circle cx="360.69" cy="147.96" r="2.5" fill="#fff" stroke="#111" stroke-width="1.2"/>
<circle cx="363.76" cy="149.23" r="2.5" fill="#fff" stroke="#111" stroke-width="1.2"/>
<circle cx="366.83" cy="149.71" r="2.5" fill="#fff" stroke="#111" stroke-width="1.2"/>
<circle cx="369.9" cy="151.03" r="2.5" fill="#fff" stroke="#111" stroke-width="1.2"/>
<circle cx="372.97" cy="151.57" r="2.5" fill="#fff" stroke="#111" stroke-width="1.2"/>
<circle cx="376.04" cy="152.77" r="2.5" fill="#fff" stroke="#111" stroke-width="1.2"/>
<circle cx="379.11" cy="152.82" r="2.5" fill="#fff" stroke="#111" stroke-width="1.2"/>
<circle cx="382.18" cy="153.79" r="2.5" fill="#fff" stroke="#111" stroke-width="1.2"/>
<circle cx="385.24" cy="154.13" r="2.5" fill="#fff" stroke="#111" stroke-width="1.2"/>
<circle cx="388.31" cy="154.98" r="2.5" fill="#fff" stroke="#111" stroke-width="1.2"/>
<circle cx="391.38" cy="155.25" r="2.5" fill="#fff" stroke="#111" stroke-width="1.2"/>
<circle cx="394.45" cy="156.25" r="2.5" fill="#fff" stroke="#111" stroke-width="1.2"/>
<circle cx="397.52" cy="156.26" r="2.5" fill="#fff" stroke="#111" stroke-width="1.2"/>
<circle cx="400.59" cy="157.28" r="2.5" fill="#fff" stroke="#111" stroke-width="1.2"/>
<circle cx="403.66" cy="157.42" r="2.5" fill="#fff" stroke="#111" stroke-width="1.2"/>
<circle cx="406.73" cy="158.23" r="2.5" fill="#fff" stroke="#111" stroke-width="1.2"/>
<circle cx="409.79" cy="158.21" r="2.5" fill="#fff" stroke="#111" stroke-width="1.2"/>
<circle cx="412.86" cy="159.1" r="2.5" fill="#fff" stroke="#111" stroke-width="1.2"/>
<circle cx="415.93" cy="159.01" r="2.5" fill="#fff" stroke="#111" stroke-width="1.2"/>
<circle cx="419" cy="159.58" r="2.5" fill="#fff" stroke="#111" stroke-width="1.2"/>
</g>
<rect x="315" y="3.2" width="229.5" height="160" fill="none" stroke="#2b2b2b" stroke-width="1.6"/>
<text x="309.1" y="162.7" font-size="8.8" text-anchor="end" textLength="4.5" lengthAdjust="spacingAndGlyphs">0</text>
<text x="309.1" y="141.72" font-size="8.8" text-anchor="end" textLength="13.51" lengthAdjust="spacingAndGlyphs">200</text>
<text x="309.1" y="120.74" font-size="8.8" text-anchor="end" textLength="13.51" lengthAdjust="spacingAndGlyphs">400</text>
<text x="309.1" y="99.76" font-size="8.8" text-anchor="end" textLength="13.51" lengthAdjust="spacingAndGlyphs">600</text>
<text x="309.1" y="78.78" font-size="8.8" text-anchor="end" textLength="13.51" lengthAdjust="spacingAndGlyphs">800</text>
<text x="309.1" y="57.8" font-size="8.8" text-anchor="end" textLength="18.02" lengthAdjust="spacingAndGlyphs">1000</text>
<text x="309.1" y="36.82" font-size="8.8" text-anchor="end" textLength="18.02" lengthAdjust="spacingAndGlyphs">1200</text>
<text x="309.1" y="15.84" font-size="8.8" text-anchor="end" textLength="18.02" lengthAdjust="spacingAndGlyphs">1400</text>
<text x="320.6" y="175.3" font-size="8.8" text-anchor="middle" textLength="4.59" lengthAdjust="spacingAndGlyphs">0</text>
<text x="355.57" y="175.3" font-size="8.8" text-anchor="middle" textLength="13.76" lengthAdjust="spacingAndGlyphs">250</text>
<text x="390.54" y="175.3" font-size="8.8" text-anchor="middle" textLength="13.76" lengthAdjust="spacingAndGlyphs">500</text>
<text x="425.5" y="175.3" font-size="8.8" text-anchor="middle" textLength="13.76" lengthAdjust="spacingAndGlyphs">750</text>
<text x="460.47" y="175.3" font-size="8.8" text-anchor="middle" textLength="18.35" lengthAdjust="spacingAndGlyphs">1000</text>
<text x="495.44" y="175.3" font-size="8.8" text-anchor="middle" textLength="18.35" lengthAdjust="spacingAndGlyphs">1250</text>
<text x="530.4" y="175.3" font-size="8.8" text-anchor="middle" textLength="18.35" lengthAdjust="spacingAndGlyphs">1500</text>
<path d="M311.4 160.4H315M311.4 139.42H315M311.4 118.44H315M311.4 97.46H315M311.4 76.48H315M311.4 55.5H315M311.4 34.52H315M311.4 13.54H315M313 149.91H315M313 128.93H315M313 107.95H315M313 86.97H315M313 65.99H315M313 45.01H315M313 24.03H315M320.6 163.2V167.4M355.57 163.2V167.4M390.54 163.2V167.4M425.5 163.2V167.4M460.47 163.2V167.4M495.44 163.2V167.4M530.4 163.2V167.4M338.08 163.2V165M373.05 163.2V165M408.02 163.2V165M442.99 163.2V165M477.95 163.2V165M512.92 163.2V165" stroke="#2b2b2b" stroke-width="1.1" fill="none"/>
<text x="429.75" y="186.8" font-size="9.6" text-anchor="middle">Time, min</text>
<text transform="translate(287 85.1) rotate(-90)" x="0" y="0" font-size="9.85" text-anchor="middle">Concentration, ppm</text>
<text x="331.7" y="30.7" font-size="13.5">80-TC</text>
<rect x="475.95" y="80.95" width="6.9" height="6.9" fill="#fff" stroke="#111" stroke-width="1.5"/>
<text transform="translate(488.3 87.2) scale(1.12 1)" x="0" y="0" font-size="10">CO<tspan font-size="6.4" dx="0.9" dy="3.6">2</tspan></text>
<path d="M479.9 96.4L484.8 101.3L479.9 106.2L475 101.3Z" fill="#fbe6e6" stroke="#7e3a30" stroke-width="1.4"/>
<path d="M475 112.9H484.2L479.6 120.6Z" fill="#fff" stroke="#24229a" stroke-width="1.5"/>
<text transform="translate(492 103.6) scale(1.12 1)" x="0" y="0" font-size="10">HCOOH</text>
<text transform="translate(492 117.8) scale(1.12 1)" x="0" y="0" font-size="10">CH<tspan font-size="6.4" dy="3.9">3</tspan><tspan dy="-3.9">CHO</tspan></text>
<circle cx="479.4" cy="132.4" r="3.9" fill="#fff" stroke="#111" stroke-width="1.5"/>
<text transform="translate(492.2 134.3) scale(1.12 1)" x="0" y="0" font-size="10">DES</text>
</g>
<g id="p3">
<line x1="39.5" y1="205.6" x2="268.67" y2="205.6" stroke="#3a3a3a" stroke-width="1.4" stroke-dasharray="3.8 3.47" clip-path="url(#cp3)"/>
<rect x="131" y="202.6" width="45.6" height="6" fill="#fff"/>
<text x="155.05" y="206.1" font-size="5.6" text-anchor="middle" style="fill:#333;stroke:#333;stroke-width:0.1px" textLength="37" lengthAdjust="spacingAndGlyphs">100% conversion</text>
<g clip-path="url(#cp3)">
<rect x="42.65" y="350.94" width="5.3" height="5.3" fill="#fff" stroke="#111" stroke-width="1.1"/>
<rect x="45.77" y="349.77" width="5.3" height="5.3" fill="#fff" stroke="#111" stroke-width="1.1"/>
<rect x="48.89" y="349.2" width="5.3" height="5.3" fill="#fff" stroke="#111" stroke-width="1.1"/>
<rect x="52.01" y="347.8" width="5.3" height="5.3" fill="#fff" stroke="#111" stroke-width="1.1"/>
<rect x="55.13" y="346.78" width="5.3" height="5.3" fill="#fff" stroke="#111" stroke-width="1.1"/>
<rect x="58.26" y="345.18" width="5.3" height="5.3" fill="#fff" stroke="#111" stroke-width="1.1"/>
<rect x="61.38" y="343.99" width="5.3" height="5.3" fill="#fff" stroke="#111" stroke-width="1.1"/>
<rect x="64.5" y="341.93" width="5.3" height="5.3" fill="#fff" stroke="#111" stroke-width="1.1"/>
<rect x="67.62" y="340.26" width="5.3" height="5.3" fill="#fff" stroke="#111" stroke-width="1.1"/>
<rect x="70.74" y="337.84" width="5.3" height="5.3" fill="#fff" stroke="#111" stroke-width="1.1"/>
<rect x="73.86" y="336.22" width="5.3" height="5.3" fill="#fff" stroke="#111" stroke-width="1.1"/>
<rect x="76.98" y="334" width="5.3" height="5.3" fill="#fff" stroke="#111" stroke-width="1.1"/>
<rect x="80.1" y="332.68" width="5.3" height="5.3" fill="#fff" stroke="#111" stroke-width="1.1"/>
<rect x="83.22" y="330.51" width="5.3" height="5.3" fill="#fff" stroke="#111" stroke-width="1.1"/>
<rect x="86.35" y="328.88" width="5.3" height="5.3" fill="#fff" stroke="#111" stroke-width="1.1"/>
<rect x="89.47" y="325.63" width="5.3" height="5.3" fill="#fff" stroke="#111" stroke-width="1.1"/>
<rect x="92.59" y="322.9" width="5.3" height="5.3" fill="#fff" stroke="#111" stroke-width="1.1"/>
<rect x="95.71" y="319.38" width="5.3" height="5.3" fill="#fff" stroke="#111" stroke-width="1.1"/>
<rect x="98.83" y="316.66" width="5.3" height="5.3" fill="#fff" stroke="#111" stroke-width="1.1"/>
<rect x="101.95" y="312.55" width="5.3" height="5.3" fill="#fff" stroke="#111" stroke-width="1.1"/>
<rect x="105.07" y="308.01" width="5.3" height="5.3" fill="#fff" stroke="#111" stroke-width="1.1"/>
<rect x="108.19" y="301.45" width="5.3" height="5.3" fill="#fff" stroke="#111" stroke-width="1.1"/>
<rect x="111.31" y="295.11" width="5.3" height="5.3" fill="#fff" stroke="#111" stroke-width="1.1"/>
<rect x="114.44" y="289.44" width="5.3" height="5.3" fill="#fff" stroke="#111" stroke-width="1.1"/>
<rect x="117.56" y="282.13" width="5.3" height="5.3" fill="#fff" stroke="#111" stroke-width="1.1"/>
<rect x="120.68" y="275.78" width="5.3" height="5.3" fill="#fff" stroke="#111" stroke-width="1.1"/>
<rect x="123.8" y="270.6" width="5.3" height="5.3" fill="#fff" stroke="#111" stroke-width="1.1"/>
<rect x="126.92" y="265.23" width="5.3" height="5.3" fill="#fff" stroke="#111" stroke-width="1.1"/>
<rect x="130.04" y="261.1" width="5.3" height="5.3" fill="#fff" stroke="#111" stroke-width="1.1"/>
<rect x="133.16" y="256.39" width="5.3" height="5.3" fill="#fff" stroke="#111" stroke-width="1.1"/>
<rect x="136.28" y="252.49" width="5.3" height="5.3" fill="#fff" stroke="#111" stroke-width="1.1"/>
<rect x="139.4" y="248.4" width="5.3" height="5.3" fill="#fff" stroke="#111" stroke-width="1.1"/>
<rect x="142.53" y="245.27" width="5.3" height="5.3" fill="#fff" stroke="#111" stroke-width="1.1"/>
<rect x="145.65" y="241.45" width="5.3" height="5.3" fill="#fff" stroke="#111" stroke-width="1.1"/>
<rect x="148.77" y="239.07" width="5.3" height="5.3" fill="#fff" stroke="#111" stroke-width="1.1"/>
<rect x="151.89" y="235.96" width="5.3" height="5.3" fill="#fff" stroke="#111" stroke-width="1.1"/>
<rect x="155.01" y="233.22" width="5.3" height="5.3" fill="#fff" stroke="#111" stroke-width="1.1"/>
<rect x="158.13" y="229.4" width="5.3" height="5.3" fill="#fff" stroke="#111" stroke-width="1.1"/>
<rect x="161.25" y="226.91" width="5.3" height="5.3" fill="#fff" stroke="#111" stroke-width="1.1"/>
<rect x="164.37" y="224.63" width="5.3" height="5.3" fill="#fff" stroke="#111" stroke-width="1.1"/>
<rect x="167.5" y="223.72" width="5.3" height="5.3" fill="#fff" stroke="#111" stroke-width="1.1"/>
<rect x="170.62" y="221.61" width="5.3" height="5.3" fill="#fff" stroke="#111" stroke-width="1.1"/>
<rect x="173.74" y="220.85" width="5.3" height="5.3" fill="#fff" stroke="#111" stroke-width="1.1"/>
<rect x="176.86" y="219.13" width="5.3" height="5.3" fill="#fff" stroke="#111" stroke-width="1.1"/>
<rect x="179.98" y="218.64" width="5.3" height="5.3" fill="#fff" stroke="#111" stroke-width="1.1"/>
<rect x="183.1" y="217.2" width="5.3" height="5.3" fill="#fff" stroke="#111" stroke-width="1.1"/>
<rect x="186.22" y="216.26" width="5.3" height="5.3" fill="#fff" stroke="#111" stroke-width="1.1"/>
<rect x="189.34" y="214.8" width="5.3" height="5.3" fill="#fff" stroke="#111" stroke-width="1.1"/>
<rect x="192.46" y="214.52" width="5.3" height="5.3" fill="#fff" stroke="#111" stroke-width="1.1"/>
<rect x="195.59" y="213.83" width="5.3" height="5.3" fill="#fff" stroke="#111" stroke-width="1.1"/>
<rect x="198.71" y="213.8" width="5.3" height="5.3" fill="#fff" stroke="#111" stroke-width="1.1"/>
<rect x="201.83" y="213.26" width="5.3" height="5.3" fill="#fff" stroke="#111" stroke-width="1.1"/>
<rect x="204.95" y="213.5" width="5.3" height="5.3" fill="#fff" stroke="#111" stroke-width="1.1"/>
<rect x="208.07" y="213.03" width="5.3" height="5.3" fill="#fff" stroke="#111" stroke-width="1.1"/>
<rect x="211.19" y="213.19" width="5.3" height="5.3" fill="#fff" stroke="#111" stroke-width="1.1"/>
<rect x="214.31" y="212.66" width="5.3" height="5.3" fill="#fff" stroke="#111" stroke-width="1.1"/>
<rect x="217.43" y="212.74" width="5.3" height="5.3" fill="#fff" stroke="#111" stroke-width="1.1"/>
<rect x="220.55" y="212.12" width="5.3" height="5.3" fill="#fff" stroke="#111" stroke-width="1.1"/>
<rect x="223.68" y="212.18" width="5.3" height="5.3" fill="#fff" stroke="#111" stroke-width="1.1"/>
<rect x="226.8" y="211.38" width="5.3" height="5.3" fill="#fff" stroke="#111" stroke-width="1.1"/>
<rect x="229.92" y="211.34" width="5.3" height="5.3" fill="#fff" stroke="#111" stroke-width="1.1"/>
<rect x="233.04" y="210.59" width="5.3" height="5.3" fill="#fff" stroke="#111" stroke-width="1.1"/>
<rect x="236.16" y="210.53" width="5.3" height="5.3" fill="#fff" stroke="#111" stroke-width="1.1"/>
<rect x="239.28" y="209.72" width="5.3" height="5.3" fill="#fff" stroke="#111" stroke-width="1.1"/>
<rect x="242.4" y="209.72" width="5.3" height="5.3" fill="#fff" stroke="#111" stroke-width="1.1"/>
<rect x="245.52" y="209.12" width="5.3" height="5.3" fill="#fff" stroke="#111" stroke-width="1.1"/>
<rect x="248.64" y="209.3" width="5.3" height="5.3" fill="#fff" stroke="#111" stroke-width="1.1"/>
<rect x="251.77" y="208.67" width="5.3" height="5.3" fill="#fff" stroke="#111" stroke-width="1.1"/>
<rect x="254.89" y="209.02" width="5.3" height="5.3" fill="#fff" stroke="#111" stroke-width="1.1"/>
<rect x="258.01" y="208.35" width="5.3" height="5.3" fill="#fff" stroke="#111" stroke-width="1.1"/>
<rect x="261.13" y="208.65" width="5.3" height="5.3" fill="#fff" stroke="#111" stroke-width="1.1"/>
<rect x="264.25" y="208.02" width="5.3" height="5.3" fill="#fff" stroke="#111" stroke-width="1.1"/>
<path d="M55 350.94H61L58 356.14Z" fill="#fff" stroke="#24229a" stroke-width="1.2" stroke-linejoin="miter"/>
<path d="M58.27 349.98H64.27L61.27 355.18Z" fill="#fff" stroke="#24229a" stroke-width="1.2" stroke-linejoin="miter"/>
<path d="M61.54 350.19H67.54L64.54 355.39Z" fill="#fff" stroke="#24229a" stroke-width="1.2" stroke-linejoin="miter"/>
<path d="M64.81 348.98H70.81L67.81 354.18Z" fill="#fff" stroke="#24229a" stroke-width="1.2" stroke-linejoin="miter"/>
<path d="M68.08 349.52H74.08L71.08 354.72Z" fill="#fff" stroke="#24229a" stroke-width="1.2" stroke-linejoin="miter"/>
<path d="M71.35 348.4H77.35L74.35 353.6Z" fill="#fff" stroke="#24229a" stroke-width="1.2" stroke-linejoin="miter"/>
<path d="M74.63 348.68H80.63L77.63 353.88Z" fill="#fff" stroke="#24229a" stroke-width="1.2" stroke-linejoin="miter"/>
<path d="M77.9 347.8H83.9L80.9 353Z" fill="#fff" stroke="#24229a" stroke-width="1.2" stroke-linejoin="miter"/>
<path d="M81.17 348.59H87.17L84.17 353.79Z" fill="#fff" stroke="#24229a" stroke-width="1.2" stroke-linejoin="miter"/>
<path d="M84.44 347.3H90.44L87.44 352.5Z" fill="#fff" stroke="#24229a" stroke-width="1.2" stroke-linejoin="miter"/>
<path d="M87.71 348.09H93.71L90.71 353.29Z" fill="#fff" stroke="#24229a" stroke-width="1.2" stroke-linejoin="miter"/>
<path d="M90.98 346.94H96.98L93.98 352.14Z" fill="#fff" stroke="#24229a" stroke-width="1.2" stroke-linejoin="miter"/>
<path d="M94.25 347.25H100.25L97.25 352.45Z" fill="#fff" stroke="#24229a" stroke-width="1.2" stroke-linejoin="miter"/>
<path d="M97.52 345.64H103.52L100.52 350.84Z" fill="#fff" stroke="#24229a" stroke-width="1.2" stroke-linejoin="miter"/>
<path d="M100.79 345.85H106.79L103.79 351.05Z" fill="#fff" stroke="#24229a" stroke-width="1.2" stroke-linejoin="miter"/>
<path d="M104.06 344.48H110.06L107.06 349.68Z" fill="#fff" stroke="#24229a" stroke-width="1.2" stroke-linejoin="miter"/>
<path d="M107.34 344.65H113.34L110.34 349.85Z" fill="#fff" stroke="#24229a" stroke-width="1.2" stroke-linejoin="miter"/>
<path d="M110.61 343.97H116.61L113.61 349.17Z" fill="#fff" stroke="#24229a" stroke-width="1.2" stroke-linejoin="miter"/>
<path d="M113.88 344.47H119.88L116.88 349.67Z" fill="#fff" stroke="#24229a" stroke-width="1.2" stroke-linejoin="miter"/>
<path d="M117.15 343.81H123.15L120.15 349.01Z" fill="#fff" stroke="#24229a" stroke-width="1.2" stroke-linejoin="miter"/>
<path d="M120.42 344.57H126.42L123.42 349.77Z" fill="#fff" stroke="#24229a" stroke-width="1.2" stroke-linejoin="miter"/>
<path d="M123.69 343.78H129.69L126.69 348.98Z" fill="#fff" stroke="#24229a" stroke-width="1.2" stroke-linejoin="miter"/>
<path d="M126.96 344.98H132.96L129.96 350.18Z" fill="#fff" stroke="#24229a" stroke-width="1.2" stroke-linejoin="miter"/>
<path d="M130.23 344.55H136.23L133.23 349.75Z" fill="#fff" stroke="#24229a" stroke-width="1.2" stroke-linejoin="miter"/>
<path d="M133.5 345.5H139.5L136.5 350.7Z" fill="#fff" stroke="#24229a" stroke-width="1.2" stroke-linejoin="miter"/>
<path d="M136.77 346.21H142.77L139.77 351.41Z" fill="#fff" stroke="#24229a" stroke-width="1.2" stroke-linejoin="miter"/>
<path d="M140.05 348.56H146.05L143.05 353.76Z" fill="#fff" stroke="#24229a" stroke-width="1.2" stroke-linejoin="miter"/>
<path d="M143.32 348.19H149.32L146.32 353.39Z" fill="#fff" stroke="#24229a" stroke-width="1.2" stroke-linejoin="miter"/>
<path d="M146.59 349.33H152.59L149.59 354.53Z" fill="#fff" stroke="#24229a" stroke-width="1.2" stroke-linejoin="miter"/>
<path d="M149.86 349.15H155.86L152.86 354.35Z" fill="#fff" stroke="#24229a" stroke-width="1.2" stroke-linejoin="miter"/>
<path d="M153.13 350H159.13L156.13 355.2Z" fill="#fff" stroke="#24229a" stroke-width="1.2" stroke-linejoin="miter"/>
<path d="M156.4 348.72H162.4L159.4 353.92Z" fill="#fff" stroke="#24229a" stroke-width="1.2" stroke-linejoin="miter"/>
<path d="M44 351.84L47 354.84L44 357.84L41 354.84Z" fill="#fbe8e8" stroke="#9a4034" stroke-width="1.1"/>
<path d="M46.97 347.34L49.97 350.34L46.97 353.34L43.97 350.34Z" fill="#fbe8e8" stroke="#9a4034" stroke-width="1.1"/>
<path d="M49.94 348.05L52.94 351.05L49.94 354.05L46.94 351.05Z" fill="#fbe8e8" stroke="#9a4034" stroke-width="1.1"/>
<path d="M52.9 343.44L55.9 346.44L52.9 349.44L49.9 346.44Z" fill="#fbe8e8" stroke="#9a4034" stroke-width="1.1"/>
<path d="M55.87 343.35L58.87 346.35L55.87 349.35L52.87 346.35Z" fill="#fbe8e8" stroke="#9a4034" stroke-width="1.1"/>
<path d="M58.84 339.25L61.84 342.25L58.84 345.25L55.84 342.25Z" fill="#fbe8e8" stroke="#9a4034" stroke-width="1.1"/>
<path d="M61.81 339.33L64.81 342.33L61.81 345.33L58.81 342.33Z" fill="#fbe8e8" stroke="#9a4034" stroke-width="1.1"/>
<path d="M64.78 334.9L67.78 337.9L64.78 340.9L61.78 337.9Z" fill="#fbe8e8" stroke="#9a4034" stroke-width="1.1"/>
<path d="M67.74 336.2L70.74 339.2L67.74 342.2L64.74 339.2Z" fill="#fbe8e8" stroke="#9a4034" stroke-width="1.1"/>
<path d="M70.71 331.88L73.71 334.88L70.71 337.88L67.71 334.88Z" fill="#fbe8e8" stroke="#9a4034" stroke-width="1.1"/>
<path d="M73.68 333.64L76.68 336.64L73.68 339.64L70.68 336.64Z" fill="#fbe8e8" stroke="#9a4034" stroke-width="1.1"/>
<path d="M76.65 330.39L79.65 333.39L76.65 336.39L73.65 333.39Z" fill="#fbe8e8" stroke="#9a4034" stroke-width="1.1"/>
<path d="M79.62 333.65L82.62 336.65L79.62 339.65L76.62 336.65Z" fill="#fbe8e8" stroke="#9a4034" stroke-width="1.1"/>
<path d="M82.58 332.37L85.58 335.37L82.58 338.37L79.58 335.37Z" fill="#fbe8e8" stroke="#9a4034" stroke-width="1.1"/>
<path d="M85.55 335.66L88.55 338.66L85.55 341.66L82.55 338.66Z" fill="#fbe8e8" stroke="#9a4034" stroke-width="1.1"/>
<path d="M88.52 333.04L91.52 336.04L88.52 339.04L85.52 336.04Z" fill="#fbe8e8" stroke="#9a4034" stroke-width="1.1"/>
<path d="M91.49 337.06L94.49 340.06L91.49 343.06L88.49 340.06Z" fill="#fbe8e8" stroke="#9a4034" stroke-width="1.1"/>
<path d="M94.46 333.04L97.46 336.04L94.46 339.04L91.46 336.04Z" fill="#fbe8e8" stroke="#9a4034" stroke-width="1.1"/>
<path d="M97.42 337.06L100.42 340.06L97.42 343.06L94.42 340.06Z" fill="#fbe8e8" stroke="#9a4034" stroke-width="1.1"/>
<path d="M100.39 334.56L103.39 337.56L100.39 340.56L97.39 337.56Z" fill="#fbe8e8" stroke="#9a4034" stroke-width="1.1"/>
<path d="M103.36 339.57L106.36 342.57L103.36 345.57L100.36 342.57Z" fill="#fbe8e8" stroke="#9a4034" stroke-width="1.1"/>
<path d="M106.33 340.07L109.33 343.07L106.33 346.07L103.33 343.07Z" fill="#fbe8e8" stroke="#9a4034" stroke-width="1.1"/>
<path d="M109.3 346.05L112.3 349.05L109.3 352.05L106.3 349.05Z" fill="#fbe8e8" stroke="#9a4034" stroke-width="1.1"/>
<path d="M112.26 345.66L115.26 348.66L112.26 351.66L109.26 348.66Z" fill="#fbe8e8" stroke="#9a4034" stroke-width="1.1"/>
<path d="M115.23 351.69L118.23 354.69L115.23 357.69L112.23 354.69Z" fill="#fbe8e8" stroke="#9a4034" stroke-width="1.1"/>
<path d="M118.2 349.14L121.2 352.14L118.2 355.14L115.2 352.14Z" fill="#fbe8e8" stroke="#9a4034" stroke-width="1.1"/>
<circle cx="43.1" cy="322.66" r="2.5" fill="#fff" stroke="#111" stroke-width="1.2"/>
<circle cx="46.74" cy="324.66" r="2.5" fill="#fff" stroke="#111" stroke-width="1.2"/>
<circle cx="50.39" cy="327.68" r="2.5" fill="#fff" stroke="#111" stroke-width="1.2"/>
<circle cx="54.03" cy="329.46" r="2.5" fill="#fff" stroke="#111" stroke-width="1.2"/>
<circle cx="57.68" cy="332.39" r="2.5" fill="#fff" stroke="#111" stroke-width="1.2"/>
<circle cx="61.32" cy="334.73" r="2.5" fill="#fff" stroke="#111" stroke-width="1.2"/>
<circle cx="64.97" cy="337.4" r="2.5" fill="#fff" stroke="#111" stroke-width="1.2"/>
<circle cx="68.61" cy="339.21" r="2.5" fill="#fff" stroke="#111" stroke-width="1.2"/>
<circle cx="72.26" cy="341.25" r="2.5" fill="#fff" stroke="#111" stroke-width="1.2"/>
<circle cx="75.9" cy="342.74" r="2.5" fill="#fff" stroke="#111" stroke-width="1.2"/>
<circle cx="79.54" cy="344.92" r="2.5" fill="#fff" stroke="#111" stroke-width="1.2"/>
<circle cx="83.19" cy="346.02" r="2.5" fill="#fff" stroke="#111" stroke-width="1.2"/>
<circle cx="86.83" cy="347.8" r="2.5" fill="#fff" stroke="#111" stroke-width="1.2"/>
<circle cx="90.48" cy="348.76" r="2.5" fill="#fff" stroke="#111" stroke-width="1.2"/>
<circle cx="94.12" cy="350.31" r="2.5" fill="#fff" stroke="#111" stroke-width="1.2"/>
<circle cx="97.77" cy="351.16" r="2.5" fill="#fff" stroke="#111" stroke-width="1.2"/>
<circle cx="101.41" cy="352.52" r="2.5" fill="#fff" stroke="#111" stroke-width="1.2"/>
<circle cx="105.06" cy="352.91" r="2.5" fill="#fff" stroke="#111" stroke-width="1.2"/>
<circle cx="108.7" cy="353.66" r="2.5" fill="#fff" stroke="#111" stroke-width="1.2"/>
</g>
<rect x="40" y="196.9" width="229.3" height="159.7" fill="none" stroke="#2b2b2b" stroke-width="1.6"/>
<text x="33.8" y="355.9" font-size="8.8" text-anchor="end" textLength="4.5" lengthAdjust="spacingAndGlyphs">0</text>
<text x="33.8" y="334.94" font-size="8.8" text-anchor="end" textLength="13.51" lengthAdjust="spacingAndGlyphs">200</text>
<text x="33.8" y="313.98" font-size="8.8" text-anchor="end" textLength="13.51" lengthAdjust="spacingAndGlyphs">400</text>
<text x="33.8" y="293.02" font-size="8.8" text-anchor="end" textLength="13.51" lengthAdjust="spacingAndGlyphs">600</text>
<text x="33.8" y="272.06" font-size="8.8" text-anchor="end" textLength="13.51" lengthAdjust="spacingAndGlyphs">800</text>
<text x="33.8" y="251.1" font-size="8.8" text-anchor="end" textLength="18.02" lengthAdjust="spacingAndGlyphs">1000</text>
<text x="33.8" y="230.14" font-size="8.8" text-anchor="end" textLength="18.02" lengthAdjust="spacingAndGlyphs">1200</text>
<text x="33.8" y="209.18" font-size="8.8" text-anchor="end" textLength="18.02" lengthAdjust="spacingAndGlyphs">1400</text>
<text x="45.2" y="368.7" font-size="8.8" text-anchor="middle" textLength="4.59" lengthAdjust="spacingAndGlyphs">0</text>
<text x="89.64" y="368.7" font-size="8.8" text-anchor="middle" textLength="13.76" lengthAdjust="spacingAndGlyphs">250</text>
<text x="134.08" y="368.7" font-size="8.8" text-anchor="middle" textLength="13.76" lengthAdjust="spacingAndGlyphs">500</text>
<text x="178.52" y="368.7" font-size="8.8" text-anchor="middle" textLength="13.76" lengthAdjust="spacingAndGlyphs">750</text>
<text x="222.96" y="368.7" font-size="8.8" text-anchor="middle" textLength="18.35" lengthAdjust="spacingAndGlyphs">1000</text>
<text x="267.4" y="368.7" font-size="8.8" text-anchor="middle" textLength="18.35" lengthAdjust="spacingAndGlyphs">1250</text>
<path d="M36.4 353.6H40M36.4 332.64H40M36.4 311.68H40M36.4 290.72H40M36.4 269.76H40M36.4 248.8H40M36.4 227.84H40M36.4 206.88H40M38 343.12H40M38 322.16H40M38 301.2H40M38 280.24H40M38 259.28H40M38 238.32H40M38 217.36H40M45.2 356.6V360.8M89.64 356.6V360.8M134.08 356.6V360.8M178.52 356.6V360.8M222.96 356.6V360.8M267.4 356.6V360.8M67.42 356.6V358.4M111.86 356.6V358.4M156.3 356.6V358.4M200.74 356.6V358.4M245.18 356.6V358.4" stroke="#2b2b2b" stroke-width="1.1" fill="none"/>
<text x="154.65" y="380.7" font-size="9.6" text-anchor="middle">Time, min</text>
<text transform="translate(9.6 284.2) rotate(-90)" x="0" y="0" font-size="9.85" text-anchor="middle">Concentration, ppm</text>
<text x="54.3" y="225.7" font-size="13.5">70-TC</text>
<rect x="200.95" y="269.15" width="6.9" height="6.9" fill="#fff" stroke="#111" stroke-width="1.5"/>
<text transform="translate(213.3 275.4) scale(1.12 1)" x="0" y="0" font-size="10">CO<tspan font-size="6.4" dx="0.9" dy="3.6">2</tspan></text>
<path d="M200 287.1H209.2L204.6 294.8Z" fill="#fff" stroke="#24229a" stroke-width="1.5"/>
<path d="M204.7 298.6L209.6 303.5L204.7 308.4L199.8 303.5Z" fill="#fbe6e6" stroke="#7e3a30" stroke-width="1.4"/>
<text transform="translate(217 291.8) scale(1.12 1)" x="0" y="0" font-size="10">HCOOH</text>
<text transform="translate(217 306) scale(1.12 1)" x="0" y="0" font-size="10">CH<tspan font-size="6.4" dy="3.9">3</tspan><tspan dy="-3.9">CHO</tspan></text>
<circle cx="204.4" cy="320.6" r="3.9" fill="#fff" stroke="#111" stroke-width="1.5"/>
<text transform="translate(217.2 322.5) scale(1.12 1)" x="0" y="0" font-size="10">DES</text>
</g>
<g id="p4">
<line x1="314.9" y1="205.6" x2="544.07" y2="205.6" stroke="#3a3a3a" stroke-width="1.4" stroke-dasharray="3.8 3.47" clip-path="url(#cp4)"/>
<rect x="407" y="202.6" width="40.6" height="6" fill="#fff"/>
<text x="430.2" y="205.2" font-size="5" text-anchor="middle" style="fill:#333;stroke:#333;stroke-width:0.1px" textLength="35.2" lengthAdjust="spacingAndGlyphs">100% conversion</text>
<g clip-path="url(#cp4)">
<rect x="313.35" y="351.04" width="5.3" height="5.3" fill="#fff" stroke="#111" stroke-width="1.1"/>
<rect x="316.94" y="350.34" width="5.3" height="5.3" fill="#fff" stroke="#111" stroke-width="1.1"/>
<rect x="320.52" y="350.94" width="5.3" height="5.3" fill="#fff" stroke="#111" stroke-width="1.1"/>
<rect x="324.11" y="350.07" width="5.3" height="5.3" fill="#fff" stroke="#111" stroke-width="1.1"/>
<rect x="327.69" y="350.47" width="5.3" height="5.3" fill="#fff" stroke="#111" stroke-width="1.1"/>
<rect x="331.28" y="349.65" width="5.3" height="5.3" fill="#fff" stroke="#111" stroke-width="1.1"/>
<rect x="334.87" y="349.86" width="5.3" height="5.3" fill="#fff" stroke="#111" stroke-width="1.1"/>
<rect x="338.45" y="348.79" width="5.3" height="5.3" fill="#fff" stroke="#111" stroke-width="1.1"/>
<rect x="342.04" y="348.6" width="5.3" height="5.3" fill="#fff" stroke="#111" stroke-width="1.1"/>
<rect x="345.63" y="347.65" width="5.3" height="5.3" fill="#fff" stroke="#111" stroke-width="1.1"/>
<rect x="349.21" y="347.79" width="5.3" height="5.3" fill="#fff" stroke="#111" stroke-width="1.1"/>
<rect x="352.8" y="346.85" width="5.3" height="5.3" fill="#fff" stroke="#111" stroke-width="1.1"/>
<rect x="356.38" y="347.02" width="5.3" height="5.3" fill="#fff" stroke="#111" stroke-width="1.1"/>
<rect x="359.97" y="345.88" width="5.3" height="5.3" fill="#fff" stroke="#111" stroke-width="1.1"/>
<rect x="363.56" y="346.11" width="5.3" height="5.3" fill="#fff" stroke="#111" stroke-width="1.1"/>
<rect x="367.14" y="345.28" width="5.3" height="5.3" fill="#fff" stroke="#111" stroke-width="1.1"/>
<rect x="370.73" y="345.34" width="5.3" height="5.3" fill="#fff" stroke="#111" stroke-width="1.1"/>
<rect x="374.32" y="344.59" width="5.3" height="5.3" fill="#fff" stroke="#111" stroke-width="1.1"/>
<rect x="377.9" y="344.65" width="5.3" height="5.3" fill="#fff" stroke="#111" stroke-width="1.1"/>
<rect x="381.49" y="343.79" width="5.3" height="5.3" fill="#fff" stroke="#111" stroke-width="1.1"/>
<rect x="385.07" y="344.21" width="5.3" height="5.3" fill="#fff" stroke="#111" stroke-width="1.1"/>
<rect x="388.66" y="343.56" width="5.3" height="5.3" fill="#fff" stroke="#111" stroke-width="1.1"/>
<rect x="392.25" y="344.29" width="5.3" height="5.3" fill="#fff" stroke="#111" stroke-width="1.1"/>
<rect x="395.83" y="343.38" width="5.3" height="5.3" fill="#fff" stroke="#111" stroke-width="1.1"/>
<rect x="399.42" y="343.52" width="5.3" height="5.3" fill="#fff" stroke="#111" stroke-width="1.1"/>
<rect x="403.01" y="342.45" width="5.3" height="5.3" fill="#fff" stroke="#111" stroke-width="1.1"/>
<rect x="406.59" y="341.34" width="5.3" height="5.3" fill="#fff" stroke="#111" stroke-width="1.1"/>
<rect x="410.18" y="339.09" width="5.3" height="5.3" fill="#fff" stroke="#111" stroke-width="1.1"/>
<rect x="413.76" y="337.92" width="5.3" height="5.3" fill="#fff" stroke="#111" stroke-width="1.1"/>
<rect x="417.35" y="334.3" width="5.3" height="5.3" fill="#fff" stroke="#111" stroke-width="1.1"/>
<rect x="420.35" y="330.35" width="5.3" height="5.3" fill="#fff" stroke="#111" stroke-width="1.1"/>
<rect x="423.28" y="324.2" width="5.3" height="5.3" fill="#fff" stroke="#111" stroke-width="1.1"/>
<rect x="426.21" y="315.52" width="5.3" height="5.3" fill="#fff" stroke="#111" stroke-width="1.1"/>
<rect x="429.13" y="304.21" width="5.3" height="5.3" fill="#fff" stroke="#111" stroke-width="1.1"/>
<rect x="432.06" y="294.41" width="5.3" height="5.3" fill="#fff" stroke="#111" stroke-width="1.1"/>
<rect x="434.99" y="284.05" width="5.3" height="5.3" fill="#fff" stroke="#111" stroke-width="1.1"/>
<rect x="437.92" y="274.66" width="5.3" height="5.3" fill="#fff" stroke="#111" stroke-width="1.1"/>
<rect x="440.84" y="265.92" width="5.3" height="5.3" fill="#fff" stroke="#111" stroke-width="1.1"/>
<rect x="443.77" y="259.2" width="5.3" height="5.3" fill="#fff" stroke="#111" stroke-width="1.1"/>
<rect x="446.7" y="252.85" width="5.3" height="5.3" fill="#fff" stroke="#111" stroke-width="1.1"/>
<rect x="449.62" y="246.47" width="5.3" height="5.3" fill="#fff" stroke="#111" stroke-width="1.1"/>
<rect x="452.55" y="240.45" width="5.3" height="5.3" fill="#fff" stroke="#111" stroke-width="1.1"/>
<rect x="455.48" y="234.62" width="5.3" height="5.3" fill="#fff" stroke="#111" stroke-width="1.1"/>
<rect x="458.41" y="230.22" width="5.3" height="5.3" fill="#fff" stroke="#111" stroke-width="1.1"/>
<rect x="461.34" y="227.38" width="5.3" height="5.3" fill="#fff" stroke="#111" stroke-width="1.1"/>
<rect x="464.26" y="223.86" width="5.3" height="5.3" fill="#fff" stroke="#111" stroke-width="1.1"/>
<rect x="467.19" y="221.23" width="5.3" height="5.3" fill="#fff" stroke="#111" stroke-width="1.1"/>
<rect x="470.12" y="218.42" width="5.3" height="5.3" fill="#fff" stroke="#111" stroke-width="1.1"/>
<rect x="473.05" y="216.5" width="5.3" height="5.3" fill="#fff" stroke="#111" stroke-width="1.1"/>
<rect x="475.97" y="214.38" width="5.3" height="5.3" fill="#fff" stroke="#111" stroke-width="1.1"/>
<rect x="478.9" y="213.12" width="5.3" height="5.3" fill="#fff" stroke="#111" stroke-width="1.1"/>
<rect x="481.83" y="211.48" width="5.3" height="5.3" fill="#fff" stroke="#111" stroke-width="1.1"/>
<rect x="484.76" y="210.42" width="5.3" height="5.3" fill="#fff" stroke="#111" stroke-width="1.1"/>
<rect x="487.68" y="209.29" width="5.3" height="5.3" fill="#fff" stroke="#111" stroke-width="1.1"/>
<rect x="490.61" y="209.01" width="5.3" height="5.3" fill="#fff" stroke="#111" stroke-width="1.1"/>
<rect x="493.54" y="208.13" width="5.3" height="5.3" fill="#fff" stroke="#111" stroke-width="1.1"/>
<rect x="496.47" y="207.71" width="5.3" height="5.3" fill="#fff" stroke="#111" stroke-width="1.1"/>
<rect x="499.39" y="206.9" width="5.3" height="5.3" fill="#fff" stroke="#111" stroke-width="1.1"/>
<rect x="502.32" y="206.76" width="5.3" height="5.3" fill="#fff" stroke="#111" stroke-width="1.1"/>
<rect x="505.25" y="206.09" width="5.3" height="5.3" fill="#fff" stroke="#111" stroke-width="1.1"/>
<rect x="508.18" y="205.89" width="5.3" height="5.3" fill="#fff" stroke="#111" stroke-width="1.1"/>
<rect x="511.1" y="205.33" width="5.3" height="5.3" fill="#fff" stroke="#111" stroke-width="1.1"/>
<rect x="514.03" y="205.13" width="5.3" height="5.3" fill="#fff" stroke="#111" stroke-width="1.1"/>
<rect x="516.96" y="204.42" width="5.3" height="5.3" fill="#fff" stroke="#111" stroke-width="1.1"/>
<rect x="519.89" y="204.27" width="5.3" height="5.3" fill="#fff" stroke="#111" stroke-width="1.1"/>
<rect x="522.81" y="203.72" width="5.3" height="5.3" fill="#fff" stroke="#111" stroke-width="1.1"/>
<rect x="525.74" y="203.72" width="5.3" height="5.3" fill="#fff" stroke="#111" stroke-width="1.1"/>
<rect x="528.67" y="203.35" width="5.3" height="5.3" fill="#fff" stroke="#111" stroke-width="1.1"/>
<rect x="531.6" y="203.55" width="5.3" height="5.3" fill="#fff" stroke="#111" stroke-width="1.1"/>
<rect x="534.52" y="203.13" width="5.3" height="5.3" fill="#fff" stroke="#111" stroke-width="1.1"/>
<rect x="537.45" y="203.35" width="5.3" height="5.3" fill="#fff" stroke="#111" stroke-width="1.1"/>
<path d="M325 351.37H331L328 356.57Z" fill="#fff" stroke="#24229a" stroke-width="1.2" stroke-linejoin="miter"/>
<path d="M330.98 350.45H336.98L333.98 355.65Z" fill="#fff" stroke="#24229a" stroke-width="1.2" stroke-linejoin="miter"/>
<path d="M336.96 351.48H342.96L339.96 356.68Z" fill="#fff" stroke="#24229a" stroke-width="1.2" stroke-linejoin="miter"/>
<path d="M342.94 350.63H348.94L345.94 355.83Z" fill="#fff" stroke="#24229a" stroke-width="1.2" stroke-linejoin="miter"/>
<path d="M348.92 351H354.92L351.92 356.2Z" fill="#fff" stroke="#24229a" stroke-width="1.2" stroke-linejoin="miter"/>
<path d="M354.9 349.87H360.9L357.9 355.07Z" fill="#fff" stroke="#24229a" stroke-width="1.2" stroke-linejoin="miter"/>
<path d="M360.88 350.62H366.88L363.88 355.82Z" fill="#fff" stroke="#24229a" stroke-width="1.2" stroke-linejoin="miter"/>
<path d="M366.86 349.6H372.86L369.86 354.8Z" fill="#fff" stroke="#24229a" stroke-width="1.2" stroke-linejoin="miter"/>
<path d="M372.84 349.88H378.84L375.84 355.08Z" fill="#fff" stroke="#24229a" stroke-width="1.2" stroke-linejoin="miter"/>
<path d="M378.82 348.19H384.82L381.82 353.39Z" fill="#fff" stroke="#24229a" stroke-width="1.2" stroke-linejoin="miter"/>
<path d="M384.8 348.06H390.8L387.8 353.26Z" fill="#fff" stroke="#24229a" stroke-width="1.2" stroke-linejoin="miter"/>
<path d="M390.78 346.23H396.78L393.78 351.43Z" fill="#fff" stroke="#24229a" stroke-width="1.2" stroke-linejoin="miter"/>
<path d="M396.76 346.54H402.76L399.76 351.74Z" fill="#fff" stroke="#24229a" stroke-width="1.2" stroke-linejoin="miter"/>
<path d="M402.74 347.02H408.74L405.74 352.22Z" fill="#fff" stroke="#24229a" stroke-width="1.2" stroke-linejoin="miter"/>
<path d="M408.72 348.52H414.72L411.72 353.72Z" fill="#fff" stroke="#24229a" stroke-width="1.2" stroke-linejoin="miter"/>
<path d="M414.7 345.17H420.7L417.7 350.37Z" fill="#fff" stroke="#24229a" stroke-width="1.2" stroke-linejoin="miter"/>
<path d="M418.5 338.61H424.5L421.5 343.81Z" fill="#fff" stroke="#24229a" stroke-width="1.2" stroke-linejoin="miter"/>
<path d="M424.44 331.23H430.44L427.44 336.43Z" fill="#fff" stroke="#24229a" stroke-width="1.2" stroke-linejoin="miter"/>
<path d="M430.39 331.65H436.39L433.39 336.85Z" fill="#fff" stroke="#24229a" stroke-width="1.2" stroke-linejoin="miter"/>
<path d="M436.33 333.14H442.33L439.33 338.34Z" fill="#fff" stroke="#24229a" stroke-width="1.2" stroke-linejoin="miter"/>
<path d="M442.28 337H448.28L445.28 342.2Z" fill="#fff" stroke="#24229a" stroke-width="1.2" stroke-linejoin="miter"/>
<path d="M448.23 339.64H454.23L451.23 344.84Z" fill="#fff" stroke="#24229a" stroke-width="1.2" stroke-linejoin="miter"/>
<path d="M454.17 343.33H460.17L457.17 348.53Z" fill="#fff" stroke="#24229a" stroke-width="1.2" stroke-linejoin="miter"/>
<path d="M460.12 345.09H466.12L463.12 350.29Z" fill="#fff" stroke="#24229a" stroke-width="1.2" stroke-linejoin="miter"/>
<path d="M466.06 347.39H472.06L469.06 352.59Z" fill="#fff" stroke="#24229a" stroke-width="1.2" stroke-linejoin="miter"/>
<path d="M472 348.02H478L475 353.22Z" fill="#fff" stroke="#24229a" stroke-width="1.2" stroke-linejoin="miter"/>
<path d="M477.95 349.48H483.95L480.95 354.68Z" fill="#fff" stroke="#24229a" stroke-width="1.2" stroke-linejoin="miter"/>
<path d="M483.89 348.98H489.89L486.89 354.18Z" fill="#fff" stroke="#24229a" stroke-width="1.2" stroke-linejoin="miter"/>
<path d="M489.84 349.8H495.84L492.84 355Z" fill="#fff" stroke="#24229a" stroke-width="1.2" stroke-linejoin="miter"/>
<path d="M495.78 349H501.78L498.78 354.2Z" fill="#fff" stroke="#24229a" stroke-width="1.2" stroke-linejoin="miter"/>
<path d="M501.73 349.9H507.73L504.73 355.1Z" fill="#fff" stroke="#24229a" stroke-width="1.2" stroke-linejoin="miter"/>
<path d="M507.67 349.22H513.67L510.67 354.42Z" fill="#fff" stroke="#24229a" stroke-width="1.2" stroke-linejoin="miter"/>
<path d="M513.62 349.69H519.62L516.62 354.89Z" fill="#fff" stroke="#24229a" stroke-width="1.2" stroke-linejoin="miter"/>
<path d="M519.56 349.27H525.56L522.56 354.47Z" fill="#fff" stroke="#24229a" stroke-width="1.2" stroke-linejoin="miter"/>
<path d="M525.51 349.6H531.51L528.51 354.8Z" fill="#fff" stroke="#24229a" stroke-width="1.2" stroke-linejoin="miter"/>
<path d="M531.45 349.11H537.45L534.45 354.31Z" fill="#fff" stroke="#24229a" stroke-width="1.2" stroke-linejoin="miter"/>
<path d="M537.4 349.76H543.4L540.4 354.96Z" fill="#fff" stroke="#24229a" stroke-width="1.2" stroke-linejoin="miter"/>
<path d="M324 350.6L327 353.6L324 356.6L321 353.6Z" fill="#fbe8e8" stroke="#9a4034" stroke-width="1.1"/>
<path d="M328.94 341.36L331.94 344.36L328.94 347.36L325.94 344.36Z" fill="#fbe8e8" stroke="#9a4034" stroke-width="1.1"/>
<path d="M333.88 340.84L336.88 343.84L333.88 346.84L330.88 343.84Z" fill="#fbe8e8" stroke="#9a4034" stroke-width="1.1"/>
<path d="M338.82 341.89L341.82 344.89L338.82 347.89L335.82 344.89Z" fill="#fbe8e8" stroke="#9a4034" stroke-width="1.1"/>
<path d="M343.76 343.3L346.76 346.3L343.76 349.3L340.76 346.3Z" fill="#fbe8e8" stroke="#9a4034" stroke-width="1.1"/>
<path d="M348.7 342.85L351.7 345.85L348.7 348.85L345.7 345.85Z" fill="#fbe8e8" stroke="#9a4034" stroke-width="1.1"/>
<path d="M353.63 336.11L356.63 339.11L353.63 342.11L350.63 339.11Z" fill="#fbe8e8" stroke="#9a4034" stroke-width="1.1"/>
<path d="M358.57 336.59L361.57 339.59L358.57 342.59L355.57 339.59Z" fill="#fbe8e8" stroke="#9a4034" stroke-width="1.1"/>
<path d="M363.51 337.48L366.51 340.48L363.51 343.48L360.51 340.48Z" fill="#fbe8e8" stroke="#9a4034" stroke-width="1.1"/>
<path d="M368.45 332.63L371.45 335.63L368.45 338.63L365.45 335.63Z" fill="#fbe8e8" stroke="#9a4034" stroke-width="1.1"/>
<path d="M373.39 330.83L376.39 333.83L373.39 336.83L370.39 333.83Z" fill="#fbe8e8" stroke="#9a4034" stroke-width="1.1"/>
<path d="M378.33 332.24L381.33 335.24L378.33 338.24L375.33 335.24Z" fill="#fbe8e8" stroke="#9a4034" stroke-width="1.1"/>
<path d="M383.27 331.26L386.27 334.26L383.27 337.26L380.27 334.26Z" fill="#fbe8e8" stroke="#9a4034" stroke-width="1.1"/>
<path d="M388.21 331.98L391.21 334.98L388.21 337.98L385.21 334.98Z" fill="#fbe8e8" stroke="#9a4034" stroke-width="1.1"/>
<path d="M393.15 332.33L396.15 335.33L393.15 338.33L390.15 335.33Z" fill="#fbe8e8" stroke="#9a4034" stroke-width="1.1"/>
<path d="M398.09 331.61L401.09 334.61L398.09 337.61L395.09 334.61Z" fill="#fbe8e8" stroke="#9a4034" stroke-width="1.1"/>
<path d="M403.03 331.32L406.03 334.32L403.03 337.32L400.03 334.32Z" fill="#fbe8e8" stroke="#9a4034" stroke-width="1.1"/>
<path d="M407.97 332.54L410.97 335.54L407.97 338.54L404.97 335.54Z" fill="#fbe8e8" stroke="#9a4034" stroke-width="1.1"/>
<path d="M412.9 332.6L415.9 335.6L412.9 338.6L409.9 335.6Z" fill="#fbe8e8" stroke="#9a4034" stroke-width="1.1"/>
<path d="M417.84 333.87L420.84 336.87L417.84 339.87L414.84 336.87Z" fill="#fbe8e8" stroke="#9a4034" stroke-width="1.1"/>
<path d="M422.78 338.36L425.78 341.36L422.78 344.36L419.78 341.36Z" fill="#fbe8e8" stroke="#9a4034" stroke-width="1.1"/>
<path d="M427.72 342.73L430.72 345.73L427.72 348.73L424.72 345.73Z" fill="#fbe8e8" stroke="#9a4034" stroke-width="1.1"/>
<path d="M432.66 349.81L435.66 352.81L432.66 355.81L429.66 352.81Z" fill="#fbe8e8" stroke="#9a4034" stroke-width="1.1"/>
<path d="M437.6 349.4L440.6 352.4L437.6 355.4L434.6 352.4Z" fill="#fbe8e8" stroke="#9a4034" stroke-width="1.1"/>
<circle cx="316" cy="323.8" r="2.5" fill="#fff" stroke="#111" stroke-width="1.2"/>
<circle cx="320.31" cy="323.82" r="2.5" fill="#fff" stroke="#111" stroke-width="1.2"/>
<circle cx="324.62" cy="325" r="2.5" fill="#fff" stroke="#111" stroke-width="1.2"/>
<circle cx="328.93" cy="328.41" r="2.5" fill="#fff" stroke="#111" stroke-width="1.2"/>
<circle cx="333.24" cy="331.26" r="2.5" fill="#fff" stroke="#111" stroke-width="1.2"/>
<circle cx="337.56" cy="334.11" r="2.5" fill="#fff" stroke="#111" stroke-width="1.2"/>
<circle cx="341.87" cy="336.33" r="2.5" fill="#fff" stroke="#111" stroke-width="1.2"/>
<circle cx="346.18" cy="339.43" r="2.5" fill="#fff" stroke="#111" stroke-width="1.2"/>
<circle cx="350.49" cy="341.6" r="2.5" fill="#fff" stroke="#111" stroke-width="1.2"/>
<circle cx="354.8" cy="343.75" r="2.5" fill="#fff" stroke="#111" stroke-width="1.2"/>
<circle cx="359.11" cy="345.87" r="2.5" fill="#fff" stroke="#111" stroke-width="1.2"/>
<circle cx="363.42" cy="347.33" r="2.5" fill="#fff" stroke="#111" stroke-width="1.2"/>
<circle cx="367.73" cy="348.61" r="2.5" fill="#fff" stroke="#111" stroke-width="1.2"/>
<circle cx="372.04" cy="350.06" r="2.5" fill="#fff" stroke="#111" stroke-width="1.2"/>
<circle cx="376.36" cy="350.8" r="2.5" fill="#fff" stroke="#111" stroke-width="1.2"/>
<circle cx="380.67" cy="351.47" r="2.5" fill="#fff" stroke="#111" stroke-width="1.2"/>
<circle cx="384.98" cy="352.22" r="2.5" fill="#fff" stroke="#111" stroke-width="1.2"/>
<circle cx="389.29" cy="353.31" r="2.5" fill="#fff" stroke="#111" stroke-width="1.2"/>
<circle cx="393.6" cy="353.8" r="2.5" fill="#fff" stroke="#111" stroke-width="1.2"/>
</g>
<rect x="315.2" y="196.8" width="229.2" height="159.7" fill="none" stroke="#2b2b2b" stroke-width="1.6"/>
<text x="309.1" y="355.9" font-size="8.8" text-anchor="end" textLength="4.5" lengthAdjust="spacingAndGlyphs">0</text>
<text x="309.1" y="334.94" font-size="8.8" text-anchor="end" textLength="13.51" lengthAdjust="spacingAndGlyphs">200</text>
<text x="309.1" y="313.98" font-size="8.8" text-anchor="end" textLength="13.51" lengthAdjust="spacingAndGlyphs">400</text>
<text x="309.1" y="293.02" font-size="8.8" text-anchor="end" textLength="13.51" lengthAdjust="spacingAndGlyphs">600</text>
<text x="309.1" y="272.06" font-size="8.8" text-anchor="end" textLength="13.51" lengthAdjust="spacingAndGlyphs">800</text>
<text x="309.1" y="251.1" font-size="8.8" text-anchor="end" textLength="18.02" lengthAdjust="spacingAndGlyphs">1000</text>
<text x="309.1" y="230.14" font-size="8.8" text-anchor="end" textLength="18.02" lengthAdjust="spacingAndGlyphs">1200</text>
<text x="309.1" y="209.18" font-size="8.8" text-anchor="end" textLength="18.02" lengthAdjust="spacingAndGlyphs">1400</text>
<text x="323.4" y="368.7" font-size="8.8" text-anchor="middle" textLength="4.59" lengthAdjust="spacingAndGlyphs">0</text>
<text x="396.2" y="368.7" font-size="8.8" text-anchor="middle" textLength="13.76" lengthAdjust="spacingAndGlyphs">250</text>
<text x="469" y="368.7" font-size="8.8" text-anchor="middle" textLength="13.76" lengthAdjust="spacingAndGlyphs">500</text>
<text x="541.8" y="368.7" font-size="8.8" text-anchor="middle" textLength="13.76" lengthAdjust="spacingAndGlyphs">750</text>
<path d="M311.6 353.6H315.2M311.6 332.64H315.2M311.6 311.68H315.2M311.6 290.72H315.2M311.6 269.76H315.2M311.6 248.8H315.2M311.6 227.84H315.2M311.6 206.88H315.2M313.2 343.12H315.2M313.2 322.16H315.2M313.2 301.2H315.2M313.2 280.24H315.2M313.2 259.28H315.2M313.2 238.32H315.2M313.2 217.36H315.2M323.4 356.5V360.7M396.2 356.5V360.7M469 356.5V360.7M541.8 356.5V360.7M359.8 356.5V358.3M432.6 356.5V358.3M505.4 356.5V358.3" stroke="#2b2b2b" stroke-width="1.1" fill="none"/>
<text x="429.8" y="380.7" font-size="9.6" text-anchor="middle">Time, min</text>
<text transform="translate(287 284.5) rotate(-90)" x="0" y="0" font-size="9.85" text-anchor="middle">Concentration, ppm</text>
<text x="331.7" y="224.3" font-size="13.5">40-TS</text>
<rect x="476.55" y="269.75" width="6.9" height="6.9" fill="#fff" stroke="#111" stroke-width="1.5"/>
<text transform="translate(488.9 276) scale(1.12 1)" x="0" y="0" font-size="10">CO<tspan font-size="6.4" dx="0.9" dy="3.6">2</tspan></text>
<path d="M475.6 287.7H484.8L480.2 295.4Z" fill="#fff" stroke="#24229a" stroke-width="1.5"/>
<path d="M480.3 299.2L485.2 304.1L480.3 309L475.4 304.1Z" fill="#fbe6e6" stroke="#7e3a30" stroke-width="1.4"/>
<text transform="translate(492.6 292.4) scale(1.12 1)" x="0" y="0" font-size="10">HCOOH</text>
<text transform="translate(492.6 306.6) scale(1.12 1)" x="0" y="0" font-size="10">CH<tspan font-size="6.4" dy="3.9">3</tspan><tspan dy="-3.9">CHO</tspan></text>
<circle cx="480" cy="321.2" r="3.9" fill="#fff" stroke="#111" stroke-width="1.5"/>
<text transform="translate(492.8 323.1) scale(1.12 1)" x="0" y="0" font-size="10">DES</text>
</g>
</svg></body></html>
